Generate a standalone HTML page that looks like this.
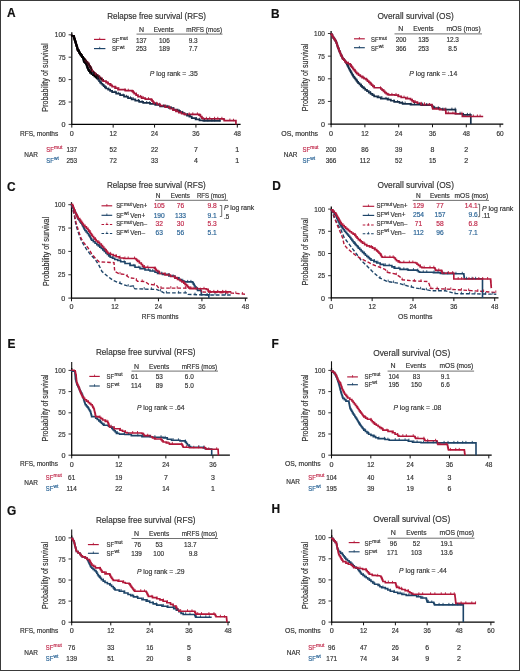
<!DOCTYPE html>
<html><head><meta charset="utf-8"><style>
html,body{margin:0;padding:0;background:#fff;}
body{width:520px;height:671px;overflow:hidden;}
svg{display:block;will-change:transform;}
svg text{font-family:"Liberation Sans",sans-serif;}
</style></head><body>
<svg width="520" height="671" viewBox="0 0 520 671">
<rect x="0" y="0" width="520" height="671" fill="#fff"/>
<g fill="#333333" stroke="#333333" stroke-width="0.18">
<text x="7.00" y="16.90" font-size="11.9" fill="#111" stroke="#111" font-weight="bold">A</text>
<text x="107.20" y="18.70" font-size="8.9" textLength="98.80" lengthAdjust="spacingAndGlyphs">Relapse free survival (RFS)</text>
<line x1="71.80" y1="32.30" x2="71.80" y2="125.00" stroke="#000" stroke-width="1.25"/>
<line x1="71.20" y1="124.40" x2="240.60" y2="124.40" stroke="#000" stroke-width="1.25"/>
<line x1="68.60" y1="124.40" x2="71.80" y2="124.40" stroke="#222" stroke-width="0.9"/>
<text x="65.60" y="127.00" font-size="7.2" text-anchor="end">0</text>
<line x1="68.60" y1="102.00" x2="71.80" y2="102.00" stroke="#222" stroke-width="0.9"/>
<text x="65.60" y="104.60" font-size="7.2" text-anchor="end" textLength="7.21" lengthAdjust="spacingAndGlyphs">25</text>
<line x1="68.60" y1="79.60" x2="71.80" y2="79.60" stroke="#222" stroke-width="0.9"/>
<text x="65.60" y="82.20" font-size="7.2" text-anchor="end" textLength="7.21" lengthAdjust="spacingAndGlyphs">50</text>
<line x1="68.60" y1="57.20" x2="71.80" y2="57.20" stroke="#222" stroke-width="0.9"/>
<text x="65.60" y="59.80" font-size="7.2" text-anchor="end" textLength="7.21" lengthAdjust="spacingAndGlyphs">75</text>
<line x1="68.60" y1="34.80" x2="71.80" y2="34.80" stroke="#222" stroke-width="0.9"/>
<text x="65.60" y="37.40" font-size="7.2" text-anchor="end" textLength="10.81" lengthAdjust="spacingAndGlyphs">100</text>
<line x1="71.80" y1="124.40" x2="71.80" y2="127.60" stroke="#111" stroke-width="1.0"/>
<text x="71.80" y="135.60" font-size="7.2" text-anchor="middle">0</text>
<line x1="113.17" y1="124.40" x2="113.17" y2="127.60" stroke="#111" stroke-width="1.0"/>
<text x="113.17" y="135.60" font-size="7.2" text-anchor="middle" textLength="7.21" lengthAdjust="spacingAndGlyphs">12</text>
<line x1="154.55" y1="124.40" x2="154.55" y2="127.60" stroke="#111" stroke-width="1.0"/>
<text x="154.55" y="135.60" font-size="7.2" text-anchor="middle" textLength="7.21" lengthAdjust="spacingAndGlyphs">24</text>
<line x1="195.93" y1="124.40" x2="195.93" y2="127.60" stroke="#111" stroke-width="1.0"/>
<text x="195.93" y="135.60" font-size="7.2" text-anchor="middle" textLength="7.21" lengthAdjust="spacingAndGlyphs">36</text>
<line x1="237.30" y1="124.40" x2="237.30" y2="127.60" stroke="#111" stroke-width="1.0"/>
<text x="237.30" y="135.60" font-size="7.2" text-anchor="middle" textLength="7.21" lengthAdjust="spacingAndGlyphs">48</text>
<text transform="translate(48.40,77.60) rotate(-90)" font-size="8.2" text-anchor="middle" textLength="68.5" lengthAdjust="spacingAndGlyphs">Probability of survival</text>
<text x="20.00" y="135.50" font-size="7.0" textLength="38.30" lengthAdjust="spacingAndGlyphs">RFS, months</text>
<text x="141.60" y="31.80" font-size="7.0" text-anchor="middle">N</text>
<text x="163.70" y="31.80" font-size="7.0" text-anchor="middle" textLength="20.00" lengthAdjust="spacingAndGlyphs">Events</text>
<text x="204.10" y="31.80" font-size="7.0" text-anchor="middle" textLength="35.80" lengthAdjust="spacingAndGlyphs">mRFS (mos)</text>
<line x1="136.50" y1="34.10" x2="222.50" y2="34.10" stroke="#333" stroke-width="0.7"/>
<line x1="94.00" y1="39.40" x2="105.40" y2="39.40" stroke="#b3183a" stroke-width="1.15"/>
<line x1="99.70" y1="37.60" x2="99.70" y2="39.90" stroke="#b3183a" stroke-width="0.8"/>
<line x1="94.00" y1="48.60" x2="105.40" y2="48.60" stroke="#1d4468" stroke-width="1.15"/>
<line x1="99.70" y1="46.80" x2="99.70" y2="49.10" stroke="#1d4468" stroke-width="0.8"/>
<text x="111.90" y="42.90" font-size="7.0" textLength="7.50" lengthAdjust="spacingAndGlyphs">SF</text>
<text x="119.70" y="40.10" font-size="4.9" textLength="8.17" lengthAdjust="spacingAndGlyphs">mut</text>
<text x="111.90" y="51.30" font-size="7.0" textLength="7.50" lengthAdjust="spacingAndGlyphs">SF</text>
<text x="119.70" y="48.50" font-size="4.9" textLength="4.90" lengthAdjust="spacingAndGlyphs">wt</text>
<text x="141.30" y="42.90" font-size="7.0" text-anchor="middle" textLength="10.74" lengthAdjust="spacingAndGlyphs">137</text>
<text x="164.40" y="42.90" font-size="7.0" text-anchor="middle" textLength="10.74" lengthAdjust="spacingAndGlyphs">106</text>
<text x="193.10" y="42.90" font-size="7.0" text-anchor="middle" textLength="8.95" lengthAdjust="spacingAndGlyphs">9.3</text>
<text x="141.30" y="51.30" font-size="7.0" text-anchor="middle" textLength="10.74" lengthAdjust="spacingAndGlyphs">253</text>
<text x="164.40" y="51.30" font-size="7.0" text-anchor="middle" textLength="10.74" lengthAdjust="spacingAndGlyphs">189</text>
<text x="193.10" y="51.30" font-size="7.0" text-anchor="middle" textLength="8.95" lengthAdjust="spacingAndGlyphs">7.7</text>
<text x="149.7" y="76.2" font-size="7.5" textLength="48" lengthAdjust="spacingAndGlyphs"><tspan font-style="italic">P</tspan> log rank = .35</text>
<polyline points="71.80,34.80 71.80,35.74 73.80,35.74 73.80,36.68 73.80,37.34 74.23,37.34 74.23,38.66 74.66,38.66 74.66,39.99 75.09,39.99 75.09,41.31 75.52,41.31 75.52,41.97 75.52,42.57 75.87,42.57 75.87,43.78 76.22,43.78 76.22,44.99 76.58,44.99 76.58,46.20 76.93,46.20 76.93,47.41 77.28,47.41 77.28,48.62 77.63,48.62 77.63,49.23 77.63,49.89 78.40,49.89 78.40,51.21 79.18,51.21 79.18,52.53 79.95,52.53 79.95,53.85 80.73,53.85 80.73,54.51 80.73,55.30 81.89,55.30 81.89,56.86 83.04,56.86 83.04,57.65 83.04,58.29 83.37,58.29 83.37,59.57 83.71,59.57 83.71,60.86 84.04,60.86 84.04,61.50 84.04,61.99 85.04,61.99 85.04,62.98 86.04,62.98 86.04,63.47 86.04,64.13 86.54,64.13 86.54,65.45 87.04,65.45 87.04,66.78 87.54,66.78 87.54,68.10 88.04,68.10 88.04,68.76 88.04,69.56 89.04,69.56 89.04,71.18 90.04,71.18 90.04,71.98 90.04,72.61 91.54,72.61 91.54,73.87 93.04,73.87 93.04,74.49 93.04,75.10 94.54,75.10 94.54,76.31 96.04,76.31 96.04,76.91 96.04,77.43 97.06,77.43 97.06,78.46 98.07,78.46 98.07,78.97 98.07,79.71 99.07,79.71 99.07,81.19 100.07,81.19 100.07,81.93 100.07,82.53 101.27,82.53 101.27,83.73 102.47,83.73 102.47,84.93 103.67,84.93 103.67,86.13 104.87,86.13 104.87,87.33 106.07,87.33 106.07,87.93 106.07,88.52 108.10,88.52 108.10,89.68 110.12,89.68 110.12,90.84 112.14,90.84 112.14,91.43 112.14,92.19 116.11,92.19 116.11,93.71 120.07,93.71 120.07,94.47 120.07,95.21 124.04,95.21 124.04,96.69 128.00,96.69 128.00,97.43 128.00,98.06 131.62,98.06 131.62,99.31 135.24,99.31 135.24,99.94 135.24,100.57 139.21,100.57 139.21,101.82 143.17,101.82 143.17,102.45 143.17,102.94 150.07,102.94 150.07,103.43 150.07,103.93 155.24,103.93 155.24,104.42 155.24,104.91 160.07,104.91 160.07,105.40 160.07,106.30 168.69,106.30 168.69,107.20 168.69,108.00 173.17,108.00 173.17,109.62 177.65,109.62 177.65,110.42 177.65,110.97 179.95,110.97 179.95,112.08 182.25,112.08 182.25,113.19 184.55,113.19 184.55,113.74 184.55,114.33 186.96,114.33 186.96,115.53 189.37,115.53 189.37,116.72 191.79,116.72 191.79,117.32 191.79,118.06 195.58,118.06 195.58,118.80 195.58,119.33 199.46,119.33 199.46,120.38 203.34,120.38 203.34,120.91 220.75,120.91" fill="none" stroke="#172f4a" stroke-width="1.7" stroke-linejoin="miter"/>
<polyline points="71.80,34.80 71.80,35.74 73.80,35.74 73.80,36.68 73.80,37.34 74.23,37.34 74.23,38.66 74.66,38.66 74.66,39.99 75.09,39.99 75.09,41.31 75.52,41.31 75.52,41.97 75.52,42.57 75.87,42.57 75.87,43.78 76.22,43.78 76.22,44.99 76.58,44.99 76.58,46.20 76.93,46.20 76.93,47.41 77.28,47.41 77.28,48.62 77.63,48.62 77.63,49.23 77.63,49.89 78.40,49.89 78.40,51.21 79.18,51.21 79.18,52.53 79.95,52.53 79.95,53.85 80.73,53.85 80.73,54.51 80.73,55.30 81.89,55.30 81.89,56.86 83.04,56.86 83.04,57.65 83.04,58.23 84.04,58.23 84.04,59.40 85.04,59.40 85.04,59.98 85.04,60.65 86.20,60.65 86.20,61.99 87.36,61.99 87.36,63.34 88.52,63.34 88.52,64.01 88.52,64.59 89.20,64.59 89.20,65.76 89.88,65.76 89.88,66.92 90.56,66.92 90.56,67.50 90.56,68.16 91.22,68.16 91.22,69.48 91.89,69.48 91.89,70.79 92.56,70.79 92.56,71.45 92.56,71.94 93.56,71.94 93.56,72.92 94.56,72.92 94.56,73.42 94.56,74.00 96.05,74.00 96.05,75.16 97.54,75.16 97.54,76.33 99.04,76.33 99.04,76.91 99.04,77.48 100.38,77.48 100.38,78.61 101.73,78.61 101.73,79.75 103.07,79.75 103.07,80.32 103.07,81.12 106.07,81.12 106.07,81.93 106.07,82.60 108.10,82.60 108.10,83.95 110.12,83.95 110.12,85.29 112.14,85.29 112.14,85.96 112.14,86.70 115.07,86.70 115.07,88.18 118.00,88.18 118.00,88.92 118.00,89.68 125.24,89.68 125.24,90.44 125.24,90.71 132.14,90.71 132.14,90.98 132.14,91.47 133.17,91.47 133.17,92.46 134.21,92.46 134.21,92.95 134.21,93.69 136.10,93.69 136.10,95.17 138.00,95.17 138.00,95.91 138.00,96.67 141.62,96.67 141.62,98.19 145.24,98.19 145.24,98.95 145.24,99.18 151.10,99.18 151.10,99.40 151.10,99.98 152.14,99.98 152.14,101.15 153.17,101.15 153.17,102.31 154.21,102.31 154.21,102.90 154.21,103.41 157.14,103.41 157.14,104.44 160.07,104.44 160.07,104.96 160.07,105.70 165.07,105.70 165.07,107.17 170.07,107.17 170.07,107.91 170.07,108.63 173.00,108.63 173.00,110.06 175.93,110.06 175.93,110.78 175.93,111.38 178.80,111.38 178.80,112.57 181.67,112.57 181.67,113.77 184.55,113.77 184.55,114.36 199.03,114.36 199.03,115.10 200.46,115.10 200.46,116.58 201.90,116.58 201.90,118.06 203.34,118.06 203.34,118.80 223.51,118.80 223.51,119.49 224.20,119.49 224.20,120.19 224.20,120.55 235.92,120.55 235.92,120.91 235.92,124.40" fill="none" stroke="#a8173a" stroke-width="1.7" stroke-linejoin="miter"/>
<polyline points="71.80,34.80 71.80,35.74 73.80,35.74 73.80,36.68 73.80,37.34 74.23,37.34 74.23,38.66 74.66,38.66 74.66,39.99 75.09,39.99 75.09,41.31 75.52,41.31 75.52,41.97 75.52,42.57 75.87,42.57 75.87,43.78 76.22,43.78 76.22,44.99 76.58,44.99 76.58,46.20 76.93,46.20 76.93,47.41 77.28,47.41 77.28,48.62 77.63,48.62 77.63,49.23 77.63,49.89 78.40,49.89 78.40,51.21 79.18,51.21 79.18,52.53 79.95,52.53 79.95,53.85 80.73,53.85 80.73,54.51 80.73,55.30 81.89,55.30 81.89,56.86 83.04,56.86 83.04,57.65 83.04,58.29 83.37,58.29 83.37,59.57 83.71,59.57 83.71,60.86 84.04,60.86 84.04,61.50 84.04,61.99 85.04,61.99 85.04,62.98 86.04,62.98 86.04,63.47 86.04,64.13 86.54,64.13 86.54,65.45 87.04,65.45 87.04,66.78 87.54,66.78 87.54,68.10 88.04,68.10 88.04,68.76 88.04,69.56 89.04,69.56 89.04,71.18 90.04,71.18 90.04,71.98 90.04,72.61 91.54,72.61 91.54,73.87 93.04,73.87 93.04,74.49 93.04,75.10 94.54,75.10 94.54,76.31 96.04,76.31 96.04,76.91 96.04,77.43 97.06,77.43 97.06,78.46 98.07,78.46 98.07,78.97" fill="none" stroke="#000" stroke-width="1.7" stroke-linejoin="miter"/>
<polyline points="71.80,34.80 71.80,35.74 73.80,35.74 73.80,36.68 73.80,37.34 74.23,37.34 74.23,38.66 74.66,38.66 74.66,39.99 75.09,39.99 75.09,41.31 75.52,41.31 75.52,41.97 75.52,42.57 75.87,42.57 75.87,43.78 76.22,43.78 76.22,44.99 76.58,44.99 76.58,46.20 76.93,46.20 76.93,47.41 77.28,47.41 77.28,48.62 77.63,48.62 77.63,49.23 77.63,49.89 78.40,49.89 78.40,51.21 79.18,51.21 79.18,52.53 79.95,52.53 79.95,53.85 80.73,53.85 80.73,54.51 80.73,55.30 81.89,55.30 81.89,56.86 83.04,56.86 83.04,57.65 83.04,58.23 84.04,58.23 84.04,59.40 85.04,59.40 85.04,59.98" fill="none" stroke="#000" stroke-width="1.7" stroke-linejoin="miter"/>
<polyline points="85.04,59.98 85.04,60.65 86.20,60.65 86.20,61.99 87.36,61.99 87.36,63.34 88.52,63.34 88.52,64.01 88.52,64.59 89.20,64.59 89.20,65.76 89.88,65.76 89.88,66.92 90.56,66.92 90.56,67.50 90.56,68.16 91.22,68.16 91.22,69.48 91.89,69.48 91.89,70.79 92.56,70.79 92.56,71.45 92.56,71.94 93.56,71.94 93.56,72.92 94.56,72.92 94.56,73.42 94.56,74.00 96.05,74.00 96.05,75.16 97.54,75.16 97.54,76.33 99.04,76.33 99.04,76.91 99.04,77.48 100.38,77.48 100.38,78.61 101.73,78.61 101.73,79.75 103.07,79.75 103.07,80.32" fill="none" stroke="#3a0a16" stroke-width="1.7" stroke-linejoin="miter"/>
<text x="24.30" y="156.80" font-size="7.0" textLength="13.60" lengthAdjust="spacingAndGlyphs">NAR</text>
<text x="46.30" y="151.80" font-size="7.0" textLength="7.50" lengthAdjust="spacingAndGlyphs" fill="#c0284a" stroke="#c0284a">SF</text>
<text x="54.10" y="149.00" font-size="4.9" textLength="8.17" lengthAdjust="spacingAndGlyphs" fill="#c0284a" stroke="#c0284a">mut</text>
<text x="46.30" y="163.00" font-size="7.0" textLength="7.50" lengthAdjust="spacingAndGlyphs" fill="#2a6496" stroke="#2a6496">SF</text>
<text x="54.10" y="160.20" font-size="4.9" textLength="4.90" lengthAdjust="spacingAndGlyphs" fill="#2a6496" stroke="#2a6496">wt</text>
<text x="71.80" y="151.80" font-size="7.0" text-anchor="middle" textLength="10.74" lengthAdjust="spacingAndGlyphs">137</text>
<text x="71.80" y="163.00" font-size="7.0" text-anchor="middle" textLength="10.74" lengthAdjust="spacingAndGlyphs">253</text>
<text x="113.17" y="151.80" font-size="7.0" text-anchor="middle" textLength="7.16" lengthAdjust="spacingAndGlyphs">52</text>
<text x="113.17" y="163.00" font-size="7.0" text-anchor="middle" textLength="7.16" lengthAdjust="spacingAndGlyphs">72</text>
<text x="154.55" y="151.80" font-size="7.0" text-anchor="middle" textLength="7.16" lengthAdjust="spacingAndGlyphs">22</text>
<text x="154.55" y="163.00" font-size="7.0" text-anchor="middle" textLength="7.16" lengthAdjust="spacingAndGlyphs">33</text>
<text x="195.93" y="151.80" font-size="7.0" text-anchor="middle">7</text>
<text x="195.93" y="163.00" font-size="7.0" text-anchor="middle">4</text>
<text x="237.30" y="151.80" font-size="7.0" text-anchor="middle">1</text>
<text x="237.30" y="163.00" font-size="7.0" text-anchor="middle">1</text>
<path d="M92.49,72.03V74.48M97.79,76.68V79.13M101.39,81.25V83.70M105.99,85.85V88.30M108.89,87.55V90.00M114.99,90.52V92.97M118.29,91.79V94.24M123.19,93.64V96.09M126.39,94.83V97.28M130.49,96.29V98.74M133.19,97.23V99.68M138.49,98.97V101.42M142.09,100.10V102.55M146.69,100.95V103.40M149.59,101.36V103.81M155.69,102.51V104.96M158.99,103.18V105.63M163.89,104.20V106.65M167.09,104.86V107.31M171.19,106.10V108.55M173.89,107.07V109.52M179.19,109.16V111.61M182.79,110.89V113.34M187.39,113.14V115.59M190.29,114.58V117.03M196.39,117.02V119.47M199.69,117.91V120.36M204.59,118.91V121.36M207.79,118.91V121.36M211.89,118.91V121.36M214.59,118.91V121.36M219.89,118.91V121.36" stroke="#172f4a" stroke-width="0.9" fill="none"/>
<path d="M92.49,69.31V71.76M95.69,72.30V74.75M99.79,75.54V77.99M102.49,77.82V80.27M107.79,81.07V83.52M111.39,83.46V85.91M115.99,85.90V88.35M118.89,87.10V89.55M124.99,88.39V90.84M128.29,88.68V91.13M133.19,89.98V92.43M136.39,92.65V95.10M140.49,94.95V97.40M143.19,96.09V98.54M148.49,97.20V99.65M152.09,98.51V100.96M156.69,101.77V104.22M159.59,102.79V105.24M165.69,104.62V107.07M168.99,105.59V108.04M173.89,107.78V110.23M177.09,109.26V111.71M181.19,110.97V113.42M183.89,112.09V114.54M189.19,112.36V114.81M192.79,112.36V114.81M197.39,112.36V114.81M200.29,113.66V116.11M206.39,116.80V119.25M209.69,116.80V119.25M214.59,116.80V119.25M217.79,116.80V119.25M221.89,116.80V119.25M224.59,118.21V120.66M229.89,118.54V120.99M233.49,118.76V121.21" stroke="#a8173a" stroke-width="0.9" fill="none"/>
<text x="271.00" y="17.50" font-size="11.9" fill="#111" stroke="#111" font-weight="bold">B</text>
<text x="377.40" y="18.80" font-size="8.9" textLength="76.40" lengthAdjust="spacingAndGlyphs">Overall survival (OS)</text>
<line x1="331.10" y1="31.00" x2="331.10" y2="124.70" stroke="#000" stroke-width="1.25"/>
<line x1="330.50" y1="124.10" x2="503.30" y2="124.10" stroke="#000" stroke-width="1.25"/>
<line x1="327.90" y1="124.10" x2="331.10" y2="124.10" stroke="#222" stroke-width="0.9"/>
<text x="324.90" y="126.70" font-size="7.2" text-anchor="end">0</text>
<line x1="327.90" y1="101.45" x2="331.10" y2="101.45" stroke="#222" stroke-width="0.9"/>
<text x="324.90" y="104.05" font-size="7.2" text-anchor="end" textLength="7.21" lengthAdjust="spacingAndGlyphs">25</text>
<line x1="327.90" y1="78.80" x2="331.10" y2="78.80" stroke="#222" stroke-width="0.9"/>
<text x="324.90" y="81.40" font-size="7.2" text-anchor="end" textLength="7.21" lengthAdjust="spacingAndGlyphs">50</text>
<line x1="327.90" y1="56.15" x2="331.10" y2="56.15" stroke="#222" stroke-width="0.9"/>
<text x="324.90" y="58.75" font-size="7.2" text-anchor="end" textLength="7.21" lengthAdjust="spacingAndGlyphs">75</text>
<line x1="327.90" y1="33.50" x2="331.10" y2="33.50" stroke="#222" stroke-width="0.9"/>
<text x="324.90" y="36.10" font-size="7.2" text-anchor="end" textLength="10.81" lengthAdjust="spacingAndGlyphs">100</text>
<line x1="331.10" y1="124.10" x2="331.10" y2="127.30" stroke="#111" stroke-width="1.0"/>
<text x="331.10" y="135.60" font-size="7.2" text-anchor="middle">0</text>
<line x1="364.90" y1="124.10" x2="364.90" y2="127.30" stroke="#111" stroke-width="1.0"/>
<text x="364.90" y="135.60" font-size="7.2" text-anchor="middle" textLength="7.21" lengthAdjust="spacingAndGlyphs">12</text>
<line x1="398.70" y1="124.10" x2="398.70" y2="127.30" stroke="#111" stroke-width="1.0"/>
<text x="398.70" y="135.60" font-size="7.2" text-anchor="middle" textLength="7.21" lengthAdjust="spacingAndGlyphs">24</text>
<line x1="432.50" y1="124.10" x2="432.50" y2="127.30" stroke="#111" stroke-width="1.0"/>
<text x="432.50" y="135.60" font-size="7.2" text-anchor="middle" textLength="7.21" lengthAdjust="spacingAndGlyphs">36</text>
<line x1="466.30" y1="124.10" x2="466.30" y2="127.30" stroke="#111" stroke-width="1.0"/>
<text x="466.30" y="135.60" font-size="7.2" text-anchor="middle" textLength="7.21" lengthAdjust="spacingAndGlyphs">48</text>
<line x1="500.10" y1="124.10" x2="500.10" y2="127.30" stroke="#111" stroke-width="1.0"/>
<text x="500.10" y="135.60" font-size="7.2" text-anchor="middle" textLength="7.21" lengthAdjust="spacingAndGlyphs">60</text>
<text transform="translate(307.90,77.50) rotate(-90)" font-size="8.2" text-anchor="middle" textLength="67.5" lengthAdjust="spacingAndGlyphs">Probability of survival</text>
<text x="281.30" y="135.50" font-size="7.0" textLength="36.70" lengthAdjust="spacingAndGlyphs">OS, months</text>
<text x="400.80" y="31.30" font-size="7.0" text-anchor="middle">N</text>
<text x="423.50" y="31.30" font-size="7.0" text-anchor="middle" textLength="20.30" lengthAdjust="spacingAndGlyphs">Events</text>
<text x="463.60" y="31.30" font-size="7.0" text-anchor="middle" textLength="34.20" lengthAdjust="spacingAndGlyphs">mOS (mos)</text>
<line x1="394.50" y1="33.90" x2="482.00" y2="33.90" stroke="#333" stroke-width="0.7"/>
<line x1="354.00" y1="38.80" x2="364.80" y2="38.80" stroke="#b3183a" stroke-width="1.15"/>
<line x1="359.40" y1="37.00" x2="359.40" y2="39.30" stroke="#b3183a" stroke-width="0.8"/>
<line x1="354.00" y1="47.70" x2="364.80" y2="47.70" stroke="#1d4468" stroke-width="1.15"/>
<line x1="359.40" y1="45.90" x2="359.40" y2="48.20" stroke="#1d4468" stroke-width="0.8"/>
<text x="371.00" y="42.30" font-size="7.0" textLength="7.50" lengthAdjust="spacingAndGlyphs">SF</text>
<text x="378.80" y="39.50" font-size="4.9" textLength="8.17" lengthAdjust="spacingAndGlyphs">mut</text>
<text x="371.00" y="51.00" font-size="7.0" textLength="7.50" lengthAdjust="spacingAndGlyphs">SF</text>
<text x="378.80" y="48.20" font-size="4.9" textLength="4.90" lengthAdjust="spacingAndGlyphs">wt</text>
<text x="401.00" y="42.30" font-size="7.0" text-anchor="middle" textLength="10.74" lengthAdjust="spacingAndGlyphs">200</text>
<text x="423.60" y="42.30" font-size="7.0" text-anchor="middle" textLength="10.74" lengthAdjust="spacingAndGlyphs">135</text>
<text x="452.70" y="42.30" font-size="7.0" text-anchor="middle" textLength="12.53" lengthAdjust="spacingAndGlyphs">12.3</text>
<text x="401.00" y="51.00" font-size="7.0" text-anchor="middle" textLength="10.74" lengthAdjust="spacingAndGlyphs">366</text>
<text x="423.60" y="51.00" font-size="7.0" text-anchor="middle" textLength="10.74" lengthAdjust="spacingAndGlyphs">253</text>
<text x="452.70" y="51.00" font-size="7.0" text-anchor="middle" textLength="8.95" lengthAdjust="spacingAndGlyphs">8.5</text>
<text x="409.2" y="75.8" font-size="7.5" textLength="48" lengthAdjust="spacingAndGlyphs"><tspan font-style="italic">P</tspan> log rank = .14</text>
<polyline points="331.10,33.50 331.10,34.15 331.86,34.15 331.86,35.45 332.62,35.45 332.62,36.75 333.38,36.75 333.38,37.40 333.38,38.06 334.25,38.06 334.25,39.39 335.11,39.39 335.11,40.72 335.97,40.72 335.97,41.38 335.97,41.99 336.39,41.99 336.39,43.20 336.81,43.20 336.81,44.42 337.22,44.42 337.22,45.63 337.64,45.63 337.64,46.85 338.06,46.85 338.06,47.45 338.06,48.12 338.59,48.12 338.59,49.46 339.13,49.46 339.13,50.80 339.66,50.80 339.66,52.15 340.20,52.15 340.20,53.49 340.73,53.49 340.73,54.16 340.73,54.84 341.40,54.84 341.40,56.20 342.07,56.20 342.07,57.55 342.73,57.55 342.73,58.23 342.73,58.91 343.86,58.91 343.86,60.27 344.99,60.27 344.99,61.63 346.11,61.63 346.11,62.31 346.11,62.97 346.76,62.97 346.76,64.28 347.41,64.28 347.41,64.94 347.41,65.62 348.08,65.62 348.08,66.98 348.75,66.98 348.75,68.34 349.42,68.34 349.42,69.69 350.08,69.69 350.08,70.37 350.08,70.97 350.76,70.97 350.76,72.17 351.44,72.17 351.44,73.36 352.11,73.36 352.11,74.56 352.79,74.56 352.79,75.76 353.46,75.76 353.46,76.35 353.46,76.96 354.40,76.96 354.40,78.17 355.33,78.17 355.33,79.39 356.27,79.39 356.27,80.60 357.20,80.60 357.20,81.82 358.14,81.82 358.14,82.42 358.14,83.10 359.46,83.10 359.46,84.46 360.77,84.46 360.77,85.82 362.09,85.82 362.09,87.18 363.41,87.18 363.41,87.86 363.41,88.52 365.20,88.52 365.20,89.85 366.99,89.85 366.99,91.18 368.79,91.18 368.79,91.85 368.79,92.53 370.57,92.53 370.57,93.88 372.35,93.88 372.35,95.24 374.14,95.24 374.14,95.92 374.14,96.42 377.48,96.42 377.48,97.42 380.81,97.42 380.81,97.92 380.81,98.55 387.57,98.55 387.57,99.19 387.57,99.71 390.88,99.71 390.88,100.75 394.19,100.75 394.19,101.27 394.19,101.95 399.55,101.95 399.55,102.63 399.55,102.85 402.64,102.85 402.64,103.08 402.64,103.85 410.53,103.85 410.53,104.62 421.23,104.62 421.23,105.03 431.94,105.03 431.94,105.44 431.94,106.00 432.78,106.00 432.78,107.14 433.63,107.14 433.63,107.70 433.63,108.11 439.54,108.11 439.54,108.52 439.54,109.06 442.64,109.06 442.64,109.60 455.60,109.60 455.60,113.77 462.92,113.77 462.92,114.86 470.81,114.86 470.81,124.10" fill="none" stroke="#172f4a" stroke-width="1.7" stroke-linejoin="miter"/>
<polyline points="331.10,33.50 331.10,34.15 331.86,34.15 331.86,35.45 332.62,35.45 332.62,36.75 333.38,36.75 333.38,37.40 333.38,38.06 334.25,38.06 334.25,39.39 335.11,39.39 335.11,40.72 335.97,40.72 335.97,41.38 335.97,41.99 336.39,41.99 336.39,43.20 336.81,43.20 336.81,44.42 337.22,44.42 337.22,45.63 337.64,45.63 337.64,46.85 338.06,46.85 338.06,47.45 338.06,48.12 338.59,48.12 338.59,49.46 339.13,49.46 339.13,50.80 339.66,50.80 339.66,52.15 340.20,52.15 340.20,53.49 340.73,53.49 340.73,54.16 340.73,54.84 341.40,54.84 341.40,56.20 342.07,56.20 342.07,57.55 342.73,57.55 342.73,58.23 342.73,58.91 343.86,58.91 343.86,60.27 344.99,60.27 344.99,61.63 346.11,61.63 346.11,62.31 346.11,62.81 348.10,62.81 348.10,63.81 350.08,63.81 350.08,64.30 350.08,64.88 350.93,64.88 350.93,66.04 351.77,66.04 351.77,67.19 352.62,67.19 352.62,68.35 353.46,68.35 353.46,68.92 353.46,69.62 354.55,69.62 354.55,71.01 355.64,71.01 355.64,72.40 356.73,72.40 356.73,73.09 356.73,73.76 358.52,73.76 358.52,75.09 360.30,75.09 360.30,76.41 362.08,76.41 362.08,77.08 362.08,77.58 364.06,77.58 364.06,78.57 366.03,78.57 366.03,79.07 366.03,79.75 367.44,79.75 367.44,81.11 368.84,81.11 368.84,82.47 370.25,82.47 370.25,83.15 370.25,83.81 371.57,83.81 371.57,85.14 372.88,85.14 372.88,86.47 374.20,86.47 374.20,87.14 374.20,87.77 380.81,87.77 380.81,88.40 380.81,89.00 382.15,89.00 382.15,90.20 383.49,90.20 383.49,91.40 384.83,91.40 384.83,92.61 386.17,92.61 386.17,93.21 386.17,93.70 387.50,93.70 387.50,94.70 388.84,94.70 388.84,95.20 388.84,94.88 395.04,94.88 395.04,94.56 395.04,95.15 398.14,95.15 398.14,96.33 401.24,96.33 401.24,96.92 401.24,97.49 405.88,97.49 405.88,98.62 410.53,98.62 410.53,99.19 410.53,99.77 412.08,99.77 412.08,100.95 413.63,100.95 413.63,101.54 413.63,102.11 417.43,102.11 417.43,103.24 421.23,103.24 421.23,103.81 421.23,104.62 431.94,104.62 431.94,105.44 431.94,106.21 432.36,106.21 432.36,107.75 432.78,107.75 432.78,108.52 432.78,108.88 439.54,108.88 439.54,109.24 439.54,109.60 445.74,109.60 445.74,109.97 445.74,110.76 445.81,110.76 445.81,112.34 445.88,112.34 445.88,113.14 445.88,113.45 455.03,113.45 455.03,113.77 462.36,113.77 462.36,116.49 483.20,116.49" fill="none" stroke="#a8173a" stroke-width="1.7" stroke-linejoin="miter"/>
<text x="283.80" y="156.80" font-size="7.0" textLength="13.60" lengthAdjust="spacingAndGlyphs">NAR</text>
<text x="302.50" y="151.80" font-size="7.0" textLength="7.50" lengthAdjust="spacingAndGlyphs" fill="#c0284a" stroke="#c0284a">SF</text>
<text x="310.30" y="149.00" font-size="4.9" textLength="8.17" lengthAdjust="spacingAndGlyphs" fill="#c0284a" stroke="#c0284a">mut</text>
<text x="302.50" y="163.00" font-size="7.0" textLength="7.50" lengthAdjust="spacingAndGlyphs" fill="#2a6496" stroke="#2a6496">SF</text>
<text x="310.30" y="160.20" font-size="4.9" textLength="4.90" lengthAdjust="spacingAndGlyphs" fill="#2a6496" stroke="#2a6496">wt</text>
<text x="331.10" y="151.80" font-size="7.0" text-anchor="middle" textLength="10.74" lengthAdjust="spacingAndGlyphs">200</text>
<text x="331.10" y="163.00" font-size="7.0" text-anchor="middle" textLength="10.74" lengthAdjust="spacingAndGlyphs">366</text>
<text x="364.90" y="151.80" font-size="7.0" text-anchor="middle" textLength="7.16" lengthAdjust="spacingAndGlyphs">86</text>
<text x="364.90" y="163.00" font-size="7.0" text-anchor="middle" textLength="10.27" lengthAdjust="spacingAndGlyphs">112</text>
<text x="398.70" y="151.80" font-size="7.0" text-anchor="middle" textLength="7.16" lengthAdjust="spacingAndGlyphs">39</text>
<text x="398.70" y="163.00" font-size="7.0" text-anchor="middle" textLength="7.16" lengthAdjust="spacingAndGlyphs">52</text>
<text x="432.50" y="151.80" font-size="7.0" text-anchor="middle">8</text>
<text x="432.50" y="163.00" font-size="7.0" text-anchor="middle" textLength="7.16" lengthAdjust="spacingAndGlyphs">15</text>
<text x="466.30" y="151.80" font-size="7.0" text-anchor="middle">2</text>
<text x="466.30" y="163.00" font-size="7.0" text-anchor="middle">2</text>
<path d="M348.00,64.14V66.59M353.30,74.06V76.51M356.90,78.81V81.26M361.50,83.89V86.34M364.40,86.60V89.05M370.50,91.15V93.60M373.80,93.67V96.12M378.70,95.29V97.74M381.90,96.12V98.57M386.00,96.89V99.34M388.70,97.54V99.99M394.00,99.21V101.66M397.60,100.13V102.58M402.20,101.02V103.47M405.10,101.56V104.01M411.20,102.62V105.07M414.50,102.62V105.07M419.40,102.62V105.07M422.60,102.73V105.18M426.70,103.04V105.49M429.40,103.24V105.69M434.70,105.85V108.30M438.30,106.35V108.80M442.90,107.60V110.05M445.80,107.60V110.05M451.90,107.60V110.05M455.20,107.60V110.05M460.10,111.77V114.22M463.30,112.86V115.31M467.40,112.86V115.31M470.10,112.86V115.31" stroke="#172f4a" stroke-width="0.9" fill="none"/>
<path d="M348.00,61.26V63.71M351.20,63.83V66.28M355.30,69.27V71.72M358.00,72.04V74.49M363.30,75.69V78.14M366.90,77.91V80.36M371.50,82.41V84.86M374.40,85.17V87.62M380.50,86.34V88.79M383.80,89.08V91.53M388.70,93.09V95.54M391.90,92.89V95.34M396.00,92.93V95.38M398.70,93.96V96.41M404.00,95.59V98.04M407.60,96.47V98.92M412.20,98.45V100.90M415.10,99.98V102.43M421.20,101.80V104.25M424.50,102.30V104.75M429.40,103.05V105.50M432.60,105.85V108.30M436.70,106.94V109.39M439.40,107.23V109.68M444.70,107.84V110.29M448.30,111.31V113.76M452.90,111.62V114.07M455.80,111.77V114.22M461.90,111.77V114.22M465.20,114.49V116.94M470.10,114.49V116.94M473.30,114.49V116.94M477.40,114.49V116.94M480.10,114.49V116.94" stroke="#a8173a" stroke-width="0.9" fill="none"/>
<text x="7.00" y="190.80" font-size="11.9" fill="#111" stroke="#111" font-weight="bold">C</text>
<text x="107.00" y="187.70" font-size="8.9" textLength="98.80" lengthAdjust="spacingAndGlyphs">Relapse free survival (RFS)</text>
<line x1="71.50" y1="202.20" x2="71.50" y2="298.70" stroke="#000" stroke-width="1.25"/>
<line x1="70.90" y1="298.10" x2="247.50" y2="298.10" stroke="#000" stroke-width="1.25"/>
<line x1="68.30" y1="298.10" x2="71.50" y2="298.10" stroke="#222" stroke-width="0.9"/>
<text x="65.30" y="300.70" font-size="7.2" text-anchor="end">0</text>
<line x1="68.30" y1="274.75" x2="71.50" y2="274.75" stroke="#222" stroke-width="0.9"/>
<text x="65.30" y="277.35" font-size="7.2" text-anchor="end" textLength="7.21" lengthAdjust="spacingAndGlyphs">25</text>
<line x1="68.30" y1="251.40" x2="71.50" y2="251.40" stroke="#222" stroke-width="0.9"/>
<text x="65.30" y="254.00" font-size="7.2" text-anchor="end" textLength="7.21" lengthAdjust="spacingAndGlyphs">50</text>
<line x1="68.30" y1="228.05" x2="71.50" y2="228.05" stroke="#222" stroke-width="0.9"/>
<text x="65.30" y="230.65" font-size="7.2" text-anchor="end" textLength="7.21" lengthAdjust="spacingAndGlyphs">75</text>
<line x1="68.30" y1="204.70" x2="71.50" y2="204.70" stroke="#222" stroke-width="0.9"/>
<text x="65.30" y="207.30" font-size="7.2" text-anchor="end" textLength="10.81" lengthAdjust="spacingAndGlyphs">100</text>
<line x1="71.50" y1="298.10" x2="71.50" y2="301.30" stroke="#111" stroke-width="1.0"/>
<text x="71.50" y="309.30" font-size="7.2" text-anchor="middle">0</text>
<line x1="114.97" y1="298.10" x2="114.97" y2="301.30" stroke="#111" stroke-width="1.0"/>
<text x="114.97" y="309.30" font-size="7.2" text-anchor="middle" textLength="7.21" lengthAdjust="spacingAndGlyphs">12</text>
<line x1="158.45" y1="298.10" x2="158.45" y2="301.30" stroke="#111" stroke-width="1.0"/>
<text x="158.45" y="309.30" font-size="7.2" text-anchor="middle" textLength="7.21" lengthAdjust="spacingAndGlyphs">24</text>
<line x1="201.93" y1="298.10" x2="201.93" y2="301.30" stroke="#111" stroke-width="1.0"/>
<text x="201.93" y="309.30" font-size="7.2" text-anchor="middle" textLength="7.21" lengthAdjust="spacingAndGlyphs">36</text>
<line x1="245.40" y1="298.10" x2="245.40" y2="301.30" stroke="#111" stroke-width="1.0"/>
<text x="245.40" y="309.30" font-size="7.2" text-anchor="middle" textLength="7.21" lengthAdjust="spacingAndGlyphs">48</text>
<text transform="translate(48.60,251.50) rotate(-90)" font-size="8.2" text-anchor="middle" textLength="69" lengthAdjust="spacingAndGlyphs">Probability of survival</text>
<text x="141.80" y="318.60" font-size="7.5" textLength="36.90" lengthAdjust="spacingAndGlyphs">RFS months</text>
<text x="158.00" y="197.60" font-size="6.5" text-anchor="middle">N</text>
<text x="180.30" y="197.60" font-size="6.5" text-anchor="middle" textLength="19.20" lengthAdjust="spacingAndGlyphs">Events</text>
<text x="211.60" y="197.60" font-size="6.5" text-anchor="middle" textLength="29.20" lengthAdjust="spacingAndGlyphs">RFS (mos)</text>
<line x1="155.00" y1="200.30" x2="228.00" y2="200.30" stroke="#333" stroke-width="0.7"/>
<line x1="101.50" y1="205.80" x2="112.20" y2="205.80" stroke="#b3183a" stroke-width="1.15"/>
<line x1="106.85" y1="204.00" x2="106.85" y2="206.30" stroke="#b3183a" stroke-width="0.8"/>
<text x="116.20" y="208.40" font-size="7.0" textLength="7.50" lengthAdjust="spacingAndGlyphs">SF</text>
<text x="124.00" y="205.90" font-size="4.7" textLength="7.83" lengthAdjust="spacingAndGlyphs">mut</text>
<text x="132.40" y="208.40" font-size="7.0" textLength="14.86" lengthAdjust="spacingAndGlyphs">Ven+</text>
<text x="159.20" y="208.40" font-size="7.0" text-anchor="middle" textLength="11.10" lengthAdjust="spacingAndGlyphs" fill="#c0284a" stroke="#c0284a">105</text>
<text x="180.50" y="208.40" font-size="7.0" text-anchor="middle" textLength="7.40" lengthAdjust="spacingAndGlyphs" fill="#c0284a" stroke="#c0284a">76</text>
<text x="212.10" y="208.40" font-size="7.0" text-anchor="middle" textLength="9.24" lengthAdjust="spacingAndGlyphs" fill="#c0284a" stroke="#c0284a">9.8</text>
<line x1="101.50" y1="215.30" x2="112.20" y2="215.30" stroke="#1d4468" stroke-width="1.15"/>
<line x1="106.85" y1="213.50" x2="106.85" y2="215.80" stroke="#1d4468" stroke-width="0.8"/>
<text x="116.20" y="217.60" font-size="7.0" textLength="7.50" lengthAdjust="spacingAndGlyphs">SF</text>
<text x="124.00" y="215.10" font-size="4.7" textLength="4.70" lengthAdjust="spacingAndGlyphs">wt</text>
<text x="130.30" y="217.60" font-size="7.0" textLength="14.86" lengthAdjust="spacingAndGlyphs">Ven+</text>
<text x="159.20" y="217.60" font-size="7.0" text-anchor="middle" textLength="11.10" lengthAdjust="spacingAndGlyphs" fill="#2a6496" stroke="#2a6496">190</text>
<text x="180.50" y="217.60" font-size="7.0" text-anchor="middle" textLength="11.10" lengthAdjust="spacingAndGlyphs" fill="#2a6496" stroke="#2a6496">133</text>
<text x="212.10" y="217.60" font-size="7.0" text-anchor="middle" textLength="9.24" lengthAdjust="spacingAndGlyphs" fill="#2a6496" stroke="#2a6496">9.1</text>
<line x1="101.50" y1="224.50" x2="112.20" y2="224.50" stroke="#b3183a" stroke-width="1.15" stroke-dasharray="2.6 1.6"/>
<line x1="106.85" y1="222.70" x2="106.85" y2="225.00" stroke="#b3183a" stroke-width="0.8"/>
<text x="116.20" y="226.20" font-size="7.0" textLength="7.50" lengthAdjust="spacingAndGlyphs">SF</text>
<text x="124.00" y="223.70" font-size="4.7" textLength="7.83" lengthAdjust="spacingAndGlyphs">mut</text>
<text x="132.40" y="226.20" font-size="7.0" textLength="14.69" lengthAdjust="spacingAndGlyphs">Ven–</text>
<text x="159.20" y="226.20" font-size="7.0" text-anchor="middle" textLength="7.40" lengthAdjust="spacingAndGlyphs" fill="#c0284a" stroke="#c0284a">32</text>
<text x="180.50" y="226.20" font-size="7.0" text-anchor="middle" textLength="7.40" lengthAdjust="spacingAndGlyphs" fill="#c0284a" stroke="#c0284a">30</text>
<text x="212.10" y="226.20" font-size="7.0" text-anchor="middle" textLength="9.24" lengthAdjust="spacingAndGlyphs" fill="#c0284a" stroke="#c0284a">5.3</text>
<line x1="101.50" y1="233.50" x2="112.20" y2="233.50" stroke="#1d4468" stroke-width="1.15" stroke-dasharray="2.6 1.6"/>
<line x1="106.85" y1="231.70" x2="106.85" y2="234.00" stroke="#1d4468" stroke-width="0.8"/>
<text x="116.20" y="235.00" font-size="7.0" textLength="7.50" lengthAdjust="spacingAndGlyphs">SF</text>
<text x="124.00" y="232.50" font-size="4.7" textLength="4.70" lengthAdjust="spacingAndGlyphs">wt</text>
<text x="130.30" y="235.00" font-size="7.0" textLength="14.69" lengthAdjust="spacingAndGlyphs">Ven–</text>
<text x="159.20" y="235.00" font-size="7.0" text-anchor="middle" textLength="7.40" lengthAdjust="spacingAndGlyphs" fill="#2a6496" stroke="#2a6496">63</text>
<text x="180.50" y="235.00" font-size="7.0" text-anchor="middle" textLength="7.40" lengthAdjust="spacingAndGlyphs" fill="#2a6496" stroke="#2a6496">56</text>
<text x="212.10" y="235.00" font-size="7.0" text-anchor="middle" textLength="9.24" lengthAdjust="spacingAndGlyphs" fill="#2a6496" stroke="#2a6496">5.1</text>
<line x1="221.70" y1="205.50" x2="221.70" y2="216.50" stroke="#333" stroke-width="0.7"/>
<line x1="219.80" y1="205.50" x2="221.70" y2="205.50" stroke="#333" stroke-width="0.7"/>
<line x1="219.80" y1="216.50" x2="221.70" y2="216.50" stroke="#333" stroke-width="0.7"/>
<text x="223.9" y="210.1" font-size="6.8" textLength="30.3" lengthAdjust="spacingAndGlyphs"><tspan font-style="italic">P</tspan> log rank</text>
<text x="223.90" y="218.70" font-size="6.8" textLength="5.22" lengthAdjust="spacingAndGlyphs">.5</text>
<polyline points="71.60,204.70 74.50,216.40 76.00,225.30 78.90,234.30 81.90,241.70 86.40,249.20 90.90,255.10 95.30,259.60 99.10,265.60 102.00,271.50 107.30,276.00 113.20,280.50 120.70,283.50 126.60,285.70 129.60,286.40 132.50,285.90 135.00,288.80 156.30,289.40 161.30,291.30 163.80,292.90 187.50,292.90 188.10,294.40 207.50,295.00 232.50,295.00" fill="none" stroke="#1d4468" stroke-width="1.4" stroke-linejoin="miter" stroke-dasharray="3.6 2.0"/>
<polyline points="71.60,204.70 74.50,214.90 76.00,222.40 78.20,229.80 81.20,238.70 84.20,243.20 87.90,247.70 91.60,253.70 95.30,258.10 99.10,261.80 114.00,262.60 114.70,271.50 119.20,273.80 125.00,274.40 129.40,277.80 135.00,278.50 137.50,281.30 145.00,281.50 148.80,284.40 156.30,285.00 158.80,288.10 200.00,288.10 201.00,291.90 232.50,293.10 245.00,294.20" fill="none" stroke="#b3183a" stroke-width="1.4" stroke-linejoin="miter" stroke-dasharray="3.6 2.0"/>
<polyline points="71.60,204.70 71.60,205.30 72.20,205.30 72.20,206.50 72.80,206.50 72.80,207.70 73.40,207.70 73.40,208.90 74.00,208.90 74.00,210.10 74.60,210.10 74.60,211.30 75.20,211.30 75.20,211.90 75.20,212.57 75.80,212.57 75.80,213.91 76.40,213.91 76.40,215.25 77.00,215.25 77.00,216.59 77.60,216.59 77.60,217.93 78.20,217.93 78.20,218.60 78.20,219.25 79.12,219.25 79.12,220.55 80.05,220.55 80.05,221.85 80.98,221.85 80.98,223.15 81.90,223.15 81.90,223.80 81.90,224.40 82.50,224.40 82.50,225.60 83.10,225.60 83.10,226.80 83.70,226.80 83.70,228.00 84.30,228.00 84.30,229.20 84.90,229.20 84.90,229.80 84.90,230.55 86.13,230.55 86.13,232.05 87.37,232.05 87.37,233.55 88.60,233.55 88.60,234.30 88.60,234.95 89.35,234.95 89.35,236.25 90.10,236.25 90.10,237.55 90.85,237.55 90.85,238.85 91.60,238.85 91.60,239.50 91.60,240.25 93.33,240.25 93.33,241.75 95.07,241.75 95.07,243.25 96.80,243.25 96.80,244.00 96.80,244.62 98.30,244.62 98.30,245.85 99.80,245.85 99.80,247.08 101.30,247.08 101.30,247.70 101.30,248.45 102.80,248.45 102.80,249.95 104.30,249.95 104.30,251.45 105.80,251.45 105.80,252.20 105.80,252.93 107.27,252.93 107.27,254.40 108.73,254.40 108.73,255.87 110.20,255.87 110.20,256.60 110.20,257.18 112.45,257.18 112.45,258.32 114.70,258.32 114.70,258.90 114.70,259.45 117.70,259.45 117.70,260.55 120.70,260.55 120.70,261.10 120.70,261.80 125.00,261.80 125.00,262.50 125.00,263.45 130.00,263.45 130.00,264.40 130.00,265.35 135.00,265.35 135.00,266.30 135.00,267.20 140.00,267.20 140.00,268.10 140.00,268.75 145.00,268.75 145.00,269.40 145.00,270.00 150.00,270.00 150.00,270.60 150.00,270.95 155.00,270.95 155.00,271.30 155.00,272.20 157.50,272.20 157.50,273.10 157.50,273.45 162.50,273.45 162.50,273.80 162.50,274.40 168.80,274.40 168.80,275.00 168.80,275.95 175.00,275.95 175.00,276.90 175.00,277.85 178.80,277.85 178.80,278.80 178.80,279.43 181.30,279.43 181.30,280.68 183.80,280.68 183.80,281.30 183.80,281.60 185.00,281.60 185.00,281.90 192.50,281.90 192.50,282.63 193.33,282.63 193.33,284.10 194.17,284.10 194.17,285.57 195.00,285.57 195.00,286.30 195.00,287.07 196.25,287.07 196.25,288.62 197.50,288.62 197.50,289.40 197.50,290.35 201.30,290.35 201.30,291.30 201.30,294.40 201.30,294.70 208.80,294.70 208.80,295.00 208.80,298.00" fill="none" stroke="#1d4468" stroke-width="1.6" stroke-linejoin="miter"/>
<polyline points="71.60,204.70 71.60,204.30 72.20,204.30 72.20,203.90 72.20,204.57 72.70,204.57 72.70,205.90 73.20,205.90 73.20,207.23 73.70,207.23 73.70,208.57 74.20,208.57 74.20,209.90 74.70,209.90 74.70,211.23 75.20,211.23 75.20,211.90 75.20,212.50 75.80,212.50 75.80,213.70 76.40,213.70 76.40,214.90 77.00,214.90 77.00,216.10 77.60,216.10 77.60,217.30 78.20,217.30 78.20,217.90 78.20,218.65 79.70,218.65 79.70,219.40 79.70,220.05 80.62,220.05 80.62,221.35 81.55,221.35 81.55,222.65 82.48,222.65 82.48,223.95 83.40,223.95 83.40,224.60 83.40,225.35 84.90,225.35 84.90,226.85 86.40,226.85 86.40,228.35 87.90,228.35 87.90,229.10 87.90,229.77 88.80,229.77 88.80,231.11 89.70,231.11 89.70,232.45 90.60,232.45 90.60,233.79 91.50,233.79 91.50,235.13 92.40,235.13 92.40,235.80 92.40,236.53 93.63,236.53 93.63,238.00 94.87,238.00 94.87,239.47 96.10,239.47 96.10,240.20 96.10,240.95 97.83,240.95 97.83,242.45 99.57,242.45 99.57,243.95 101.30,243.95 101.30,244.70 101.30,245.45 102.53,245.45 102.53,246.95 103.77,246.95 103.77,248.45 105.00,248.45 105.00,249.20 105.00,249.82 106.00,249.82 106.00,251.05 107.00,251.05 107.00,252.28 108.00,252.28 108.00,252.90 108.00,253.45 110.60,253.45 110.60,254.55 113.20,254.55 113.20,255.10 113.20,255.67 116.20,255.67 116.20,256.82 119.20,256.82 119.20,257.40 119.20,257.95 123.70,257.95 123.70,258.50 135.60,258.50 135.60,259.02 136.55,259.02 136.55,260.08 137.50,260.08 137.50,260.60 137.50,261.40 139.40,261.40 139.40,263.00 141.30,263.00 141.30,263.80 141.30,264.57 142.55,264.57 142.55,266.12 143.80,266.12 143.80,266.90 143.80,267.20 146.90,267.20 146.90,267.50 154.40,267.50 154.40,268.12 155.35,268.12 155.35,269.38 156.30,269.38 156.30,270.00 156.30,270.62 157.85,270.62 157.85,271.88 159.40,271.88 159.40,272.50 159.40,273.45 165.00,273.45 165.00,274.40 165.00,275.00 170.60,275.00 170.60,275.60 170.60,276.55 175.00,276.55 175.00,277.50 175.00,278.12 177.50,278.12 177.50,279.38 180.00,279.38 180.00,280.00 180.00,280.62 181.90,280.62 181.90,281.88 183.80,281.88 183.80,282.50 183.80,283.13 185.03,283.13 185.03,284.40 186.27,284.40 186.27,285.67 187.50,285.67 187.50,286.30 187.50,286.85 188.75,286.85 188.75,287.95 190.00,287.95 190.00,288.50 190.00,288.65 197.50,288.65 197.50,288.80 206.30,288.80 206.30,289.57 208.15,289.57 208.15,291.12 210.00,291.12 210.00,291.90 231.30,291.90" fill="none" stroke="#b3183a" stroke-width="1.6" stroke-linejoin="miter"/>
<path d="M90.00,234.73V237.18M93.24,238.92V241.37M99.60,244.30V246.75M103.92,248.32V250.77M109.44,253.84V256.29M112.92,255.99V258.44M120.24,258.93V261.38M124.20,260.24V262.69M130.08,262.43V264.88M133.92,263.89V266.34M138.84,265.68V268.13M142.08,266.64V269.09M148.44,268.23V270.68M152.76,268.99V271.44M158.28,271.21V273.66M161.76,271.70V274.15M169.08,273.09V275.54M173.04,274.30V276.75M178.92,276.86V279.31M182.76,278.78V281.23M187.68,279.90V282.35M190.92,279.90V282.35M197.28,287.13V289.58M201.60,292.42V294.87M207.12,292.87V295.32" stroke="#1d4468" stroke-width="0.9" fill="none"/>
<path d="M90.00,230.23V232.68M95.52,237.51V239.96M99.00,240.71V243.16M106.32,248.83V251.28M110.28,251.86V254.31M116.16,254.23V256.68M120.00,255.60V258.05M124.92,256.50V258.95M128.16,256.50V258.95M134.52,256.50V258.95M138.84,259.73V262.18M144.36,265.01V267.46M147.84,265.50V267.95M155.16,266.50V268.95M159.12,270.27V272.72M165.00,272.40V274.85M168.84,273.22V275.67M173.76,274.96V277.41M177.00,276.50V278.95M183.36,280.21V282.66M187.68,284.46V286.91M193.20,286.63V289.08M196.68,286.77V289.22M204.00,286.80V289.25M207.96,288.19V290.64M213.84,289.90V292.35M217.68,289.90V292.35M222.60,289.90V292.35M225.84,289.90V292.35" stroke="#b3183a" stroke-width="0.9" fill="none"/>
<path d="M120.00,281.22V283.67M128.20,284.07V286.52M133.60,285.18V287.63M144.20,287.06V289.51M151.40,287.26V289.71M160.60,289.03V291.48M166.40,290.90V293.35M178.60,290.90V293.35M185.20,290.90V293.35M195.00,292.61V295.06M201.40,292.81V295.26M209.60,293.00V295.45M215.00,293.00V295.45M225.60,293.00V295.45" stroke="#1d4468" stroke-width="0.9" fill="none"/>
<path d="M120.00,271.88V274.33M127.20,274.10V276.55M136.40,278.07V280.52M142.20,279.43V281.88M154.40,282.85V285.30M161.00,286.10V288.55M170.80,286.10V288.55M177.20,286.10V288.55M185.40,286.10V288.55M190.80,286.10V288.55M201.40,289.92V292.37M208.60,290.19V292.64M217.80,290.54V292.99M223.60,290.76V293.21M235.80,291.39V293.84M242.40,291.97V294.42" stroke="#b3183a" stroke-width="0.9" fill="none"/>
<text x="272.30" y="190.00" font-size="11.9" fill="#111" stroke="#111" font-weight="bold">D</text>
<text x="377.50" y="187.90" font-size="8.9" textLength="76.40" lengthAdjust="spacingAndGlyphs">Overall survival (OS)</text>
<line x1="331.30" y1="206.60" x2="331.30" y2="298.50" stroke="#000" stroke-width="1.25"/>
<line x1="330.70" y1="297.90" x2="498.50" y2="297.90" stroke="#000" stroke-width="1.25"/>
<line x1="328.10" y1="297.90" x2="331.30" y2="297.90" stroke="#222" stroke-width="0.9"/>
<text x="325.10" y="300.50" font-size="7.2" text-anchor="end">0</text>
<line x1="328.10" y1="275.70" x2="331.30" y2="275.70" stroke="#222" stroke-width="0.9"/>
<text x="325.10" y="278.30" font-size="7.2" text-anchor="end" textLength="7.21" lengthAdjust="spacingAndGlyphs">25</text>
<line x1="328.10" y1="253.50" x2="331.30" y2="253.50" stroke="#222" stroke-width="0.9"/>
<text x="325.10" y="256.10" font-size="7.2" text-anchor="end" textLength="7.21" lengthAdjust="spacingAndGlyphs">50</text>
<line x1="328.10" y1="231.30" x2="331.30" y2="231.30" stroke="#222" stroke-width="0.9"/>
<text x="325.10" y="233.90" font-size="7.2" text-anchor="end" textLength="7.21" lengthAdjust="spacingAndGlyphs">75</text>
<line x1="328.10" y1="209.10" x2="331.30" y2="209.10" stroke="#222" stroke-width="0.9"/>
<text x="325.10" y="211.70" font-size="7.2" text-anchor="end" textLength="10.81" lengthAdjust="spacingAndGlyphs">100</text>
<line x1="331.30" y1="297.90" x2="331.30" y2="301.10" stroke="#111" stroke-width="1.0"/>
<text x="331.30" y="309.10" font-size="7.2" text-anchor="middle">0</text>
<line x1="372.15" y1="297.90" x2="372.15" y2="301.10" stroke="#111" stroke-width="1.0"/>
<text x="372.15" y="309.10" font-size="7.2" text-anchor="middle" textLength="7.21" lengthAdjust="spacingAndGlyphs">12</text>
<line x1="413.00" y1="297.90" x2="413.00" y2="301.10" stroke="#111" stroke-width="1.0"/>
<text x="413.00" y="309.10" font-size="7.2" text-anchor="middle" textLength="7.21" lengthAdjust="spacingAndGlyphs">24</text>
<line x1="453.85" y1="297.90" x2="453.85" y2="301.10" stroke="#111" stroke-width="1.0"/>
<text x="453.85" y="309.10" font-size="7.2" text-anchor="middle" textLength="7.21" lengthAdjust="spacingAndGlyphs">36</text>
<line x1="494.70" y1="297.90" x2="494.70" y2="301.10" stroke="#111" stroke-width="1.0"/>
<text x="494.70" y="309.10" font-size="7.2" text-anchor="middle" textLength="7.21" lengthAdjust="spacingAndGlyphs">48</text>
<text transform="translate(308.40,251.80) rotate(-90)" font-size="8.2" text-anchor="middle" textLength="67.5" lengthAdjust="spacingAndGlyphs">Probability of survival</text>
<text x="397.90" y="318.90" font-size="7.5" textLength="34.60" lengthAdjust="spacingAndGlyphs">OS months</text>
<text x="418.40" y="197.60" font-size="6.5" text-anchor="middle">N</text>
<text x="439.90" y="197.60" font-size="6.5" text-anchor="middle" textLength="19.80" lengthAdjust="spacingAndGlyphs">Events</text>
<text x="471.40" y="197.60" font-size="6.5" text-anchor="middle" textLength="33.70" lengthAdjust="spacingAndGlyphs">mOS (mos)</text>
<line x1="412.70" y1="200.40" x2="489.00" y2="200.40" stroke="#333" stroke-width="0.7"/>
<line x1="362.70" y1="206.30" x2="374.20" y2="206.30" stroke="#b3183a" stroke-width="1.15"/>
<line x1="368.45" y1="204.50" x2="368.45" y2="206.80" stroke="#b3183a" stroke-width="0.8"/>
<text x="376.50" y="208.40" font-size="7.0" textLength="7.50" lengthAdjust="spacingAndGlyphs">SF</text>
<text x="384.30" y="205.90" font-size="4.7" textLength="7.83" lengthAdjust="spacingAndGlyphs">mut</text>
<text x="392.70" y="208.40" font-size="7.0" textLength="14.86" lengthAdjust="spacingAndGlyphs">Ven+</text>
<text x="418.50" y="208.40" font-size="7.0" text-anchor="middle" textLength="11.10" lengthAdjust="spacingAndGlyphs" fill="#c0284a" stroke="#c0284a">129</text>
<text x="440.00" y="208.40" font-size="7.0" text-anchor="middle" textLength="7.40" lengthAdjust="spacingAndGlyphs" fill="#c0284a" stroke="#c0284a">77</text>
<text x="477.70" y="208.40" font-size="7.0" text-anchor="end" textLength="12.94" lengthAdjust="spacingAndGlyphs" fill="#c0284a" stroke="#c0284a">14.1</text>
<line x1="362.70" y1="215.40" x2="374.20" y2="215.40" stroke="#1d4468" stroke-width="1.15"/>
<line x1="368.45" y1="213.60" x2="368.45" y2="215.90" stroke="#1d4468" stroke-width="0.8"/>
<text x="376.50" y="217.30" font-size="7.0" textLength="7.50" lengthAdjust="spacingAndGlyphs">SF</text>
<text x="384.30" y="214.80" font-size="4.7" textLength="4.70" lengthAdjust="spacingAndGlyphs">wt</text>
<text x="390.60" y="217.30" font-size="7.0" textLength="14.86" lengthAdjust="spacingAndGlyphs">Ven+</text>
<text x="418.50" y="217.30" font-size="7.0" text-anchor="middle" textLength="11.10" lengthAdjust="spacingAndGlyphs" fill="#2a6496" stroke="#2a6496">254</text>
<text x="440.00" y="217.30" font-size="7.0" text-anchor="middle" textLength="11.10" lengthAdjust="spacingAndGlyphs" fill="#2a6496" stroke="#2a6496">157</text>
<text x="477.70" y="217.30" font-size="7.0" text-anchor="end" textLength="9.24" lengthAdjust="spacingAndGlyphs" fill="#2a6496" stroke="#2a6496">9.6</text>
<line x1="362.70" y1="225.00" x2="374.20" y2="225.00" stroke="#b3183a" stroke-width="1.15" stroke-dasharray="2.6 1.6"/>
<line x1="368.45" y1="223.20" x2="368.45" y2="225.50" stroke="#b3183a" stroke-width="0.8"/>
<text x="376.50" y="226.20" font-size="7.0" textLength="7.50" lengthAdjust="spacingAndGlyphs">SF</text>
<text x="384.30" y="223.70" font-size="4.7" textLength="7.83" lengthAdjust="spacingAndGlyphs">mut</text>
<text x="392.70" y="226.20" font-size="7.0" textLength="14.69" lengthAdjust="spacingAndGlyphs">Ven–</text>
<text x="418.50" y="226.20" font-size="7.0" text-anchor="middle" textLength="7.40" lengthAdjust="spacingAndGlyphs" fill="#c0284a" stroke="#c0284a">71</text>
<text x="440.00" y="226.20" font-size="7.0" text-anchor="middle" textLength="7.40" lengthAdjust="spacingAndGlyphs" fill="#c0284a" stroke="#c0284a">58</text>
<text x="477.70" y="226.20" font-size="7.0" text-anchor="end" textLength="9.24" lengthAdjust="spacingAndGlyphs" fill="#c0284a" stroke="#c0284a">6.8</text>
<line x1="362.70" y1="233.70" x2="374.20" y2="233.70" stroke="#1d4468" stroke-width="1.15" stroke-dasharray="2.6 1.6"/>
<line x1="368.45" y1="231.90" x2="368.45" y2="234.20" stroke="#1d4468" stroke-width="0.8"/>
<text x="376.50" y="234.90" font-size="7.0" textLength="7.50" lengthAdjust="spacingAndGlyphs">SF</text>
<text x="384.30" y="232.40" font-size="4.7" textLength="4.70" lengthAdjust="spacingAndGlyphs">wt</text>
<text x="390.60" y="234.90" font-size="7.0" textLength="14.69" lengthAdjust="spacingAndGlyphs">Ven–</text>
<text x="418.50" y="234.90" font-size="7.0" text-anchor="middle" textLength="10.60" lengthAdjust="spacingAndGlyphs" fill="#2a6496" stroke="#2a6496">112</text>
<text x="440.00" y="234.90" font-size="7.0" text-anchor="middle" textLength="7.40" lengthAdjust="spacingAndGlyphs" fill="#2a6496" stroke="#2a6496">96</text>
<text x="477.70" y="234.90" font-size="7.0" text-anchor="end" textLength="9.24" lengthAdjust="spacingAndGlyphs" fill="#2a6496" stroke="#2a6496">7.1</text>
<line x1="479.60" y1="204.20" x2="479.60" y2="216.70" stroke="#333" stroke-width="0.7"/>
<line x1="477.80" y1="204.20" x2="479.60" y2="204.20" stroke="#333" stroke-width="0.7"/>
<line x1="477.80" y1="216.70" x2="479.60" y2="216.70" stroke="#333" stroke-width="0.7"/>
<text x="481.9" y="211.0" font-size="6.8" textLength="31.4" lengthAdjust="spacingAndGlyphs"><tspan font-style="italic">P</tspan> log rank</text>
<text x="481.90" y="217.70" font-size="6.8" textLength="8.23" lengthAdjust="spacingAndGlyphs">.11</text>
<polyline points="331.40,209.20 334.20,217.70 337.10,223.40 341.30,230.50 344.10,237.50 348.40,243.20 352.60,248.80 356.90,254.50 361.10,260.20 366.80,265.80 372.40,271.50 379.50,277.80 387.30,281.50 398.80,283.30 402.30,284.40 408.10,286.10 415.00,287.90 425.40,289.60 431.10,290.70 445.00,290.70 455.00,293.60 496.30,294.20" fill="none" stroke="#1d4468" stroke-width="1.4" stroke-linejoin="miter" stroke-dasharray="3.6 2.0"/>
<polyline points="331.40,209.20 334.20,216.30 337.10,224.80 339.90,231.20 342.70,238.20 344.10,244.60 347.00,248.10 351.20,251.70 355.50,255.20 361.10,258.70 366.80,261.60 372.40,264.40 379.50,267.20 385.00,269.40 387.30,272.30 395.40,274.00 400.00,276.90 402.30,279.80 415.00,281.00 427.70,281.50 429.40,284.40 430.00,288.40 445.00,289.00 471.30,290.60 496.30,292.50" fill="none" stroke="#b3183a" stroke-width="1.4" stroke-linejoin="miter" stroke-dasharray="3.6 2.0"/>
<polyline points="331.40,209.20 331.40,209.91 332.47,209.91 332.47,211.34 333.55,211.34 333.55,212.76 334.62,212.76 334.62,214.19 335.70,214.19 335.70,214.90 335.70,215.54 336.26,215.54 336.26,216.82 336.82,216.82 336.82,218.10 337.38,218.10 337.38,219.38 337.94,219.38 337.94,220.66 338.50,220.66 338.50,221.30 338.50,221.91 339.20,221.91 339.20,223.14 339.90,223.14 339.90,224.36 340.60,224.36 340.60,225.59 341.30,225.59 341.30,226.20 341.30,226.91 342.38,226.91 342.38,228.34 343.45,228.34 343.45,229.76 344.53,229.76 344.53,231.19 345.60,231.19 345.60,231.90 345.60,232.51 346.65,232.51 346.65,233.74 347.70,233.74 347.70,234.96 348.75,234.96 348.75,236.19 349.80,236.19 349.80,236.80 349.80,237.51 350.85,237.51 350.85,238.94 351.90,238.94 351.90,240.36 352.95,240.36 352.95,241.79 354.00,241.79 354.00,242.50 354.00,243.11 355.07,243.11 355.07,244.34 356.15,244.34 356.15,245.56 357.23,245.56 357.23,246.79 358.30,246.79 358.30,247.40 358.30,248.12 359.70,248.12 359.70,249.55 361.10,249.55 361.10,250.98 362.50,250.98 362.50,251.70 362.50,252.40 363.93,252.40 363.93,253.80 365.37,253.80 365.37,255.20 366.80,255.20 366.80,255.90 366.80,256.50 368.20,256.50 368.20,257.70 369.60,257.70 369.60,258.90 371.00,258.90 371.00,259.50 371.00,260.20 373.85,260.20 373.85,261.60 376.70,261.60 376.70,262.30 376.70,263.00 380.20,263.00 380.20,264.40 383.70,264.40 383.70,265.10 383.70,265.55 391.90,265.55 391.90,266.00 391.90,266.85 394.20,266.85 394.20,267.70 394.20,268.25 400.00,268.25 400.00,268.80 400.00,269.40 408.10,269.40 408.10,270.00 408.10,270.10 417.30,270.10 417.30,270.20 417.30,270.73 418.45,270.73 418.45,271.77 419.60,271.77 419.60,272.30 433.40,272.30 433.40,272.60 440.40,272.60 440.40,272.90 440.40,273.35 442.50,273.35 442.50,273.80 463.80,273.80 463.80,274.43 463.95,274.43 463.95,275.68 464.10,275.68 464.10,276.93 464.25,276.93 464.25,278.18 464.40,278.18 464.40,278.80 482.50,278.80 482.50,297.90" fill="none" stroke="#1d4468" stroke-width="1.6" stroke-linejoin="miter"/>
<polyline points="331.40,209.20 331.40,209.92 332.83,209.92 332.83,211.35 334.27,211.35 334.27,212.78 335.70,212.78 335.70,213.50 335.70,214.11 336.40,214.11 336.40,215.34 337.10,215.34 337.10,216.56 337.80,216.56 337.80,217.79 338.50,217.79 338.50,218.40 338.50,219.03 339.20,219.03 339.20,220.28 339.90,220.28 339.90,221.53 340.60,221.53 340.60,222.78 341.30,222.78 341.30,223.40 341.30,224.10 342.73,224.10 342.73,225.50 344.17,225.50 344.17,226.90 345.60,226.90 345.60,227.60 345.60,228.20 347.00,228.20 347.00,229.40 348.40,229.40 348.40,230.60 349.80,230.60 349.80,231.20 349.80,231.78 351.47,231.78 351.47,232.95 353.13,232.95 353.13,234.12 354.80,234.12 354.80,234.70 354.80,235.42 355.97,235.42 355.97,236.85 357.13,236.85 357.13,238.28 358.30,238.28 358.30,239.00 358.30,239.58 359.70,239.58 359.70,240.75 361.10,240.75 361.10,241.92 362.50,241.92 362.50,242.50 362.50,243.20 364.65,243.20 364.65,244.60 366.80,244.60 366.80,245.30 366.80,245.83 369.60,245.83 369.60,246.88 372.40,246.88 372.40,247.40 372.40,248.12 374.55,248.12 374.55,249.58 376.70,249.58 376.70,250.30 376.70,250.88 377.87,250.88 377.87,252.05 379.03,252.05 379.03,253.22 380.20,253.22 380.20,253.80 380.20,254.38 380.90,254.38 380.90,255.55 381.60,255.55 381.60,256.72 382.30,256.72 382.30,257.30 394.20,257.30 394.20,258.02 395.35,258.02 395.35,259.48 396.50,259.48 396.50,260.20 396.50,260.77 398.25,260.77 398.25,261.93 400.00,261.93 400.00,262.50 415.60,262.50 415.60,263.07 417.00,263.07 417.00,264.23 418.40,264.23 418.40,264.80 418.40,265.52 420.15,265.52 420.15,266.98 421.90,266.98 421.90,267.70 434.60,267.70 434.60,268.32 435.15,268.32 435.15,269.57 435.70,269.57 435.70,270.20 435.70,270.40 441.50,270.40 441.50,270.60 441.50,271.23 442.00,271.23 442.00,272.48 442.50,272.48 442.50,273.10 453.80,273.10 453.80,279.00 490.60,279.00 490.60,279.65 490.70,279.65 490.70,280.95 490.80,280.95 490.80,282.25 490.90,282.25 490.90,283.55 491.00,283.55 491.00,284.85 491.10,284.85 491.10,286.15 491.20,286.15 491.20,287.45 491.30,287.45 491.30,288.10" fill="none" stroke="#b3183a" stroke-width="1.6" stroke-linejoin="miter"/>
<path d="M355.00,241.64V244.09M358.24,245.33V247.78M364.60,251.75V254.20M368.92,255.72V258.17M374.44,259.19V261.64M377.92,260.79V263.24M385.24,263.27V265.72M389.20,263.70V266.15M395.08,265.87V268.32M398.92,266.60V269.05M403.84,267.37V269.82M407.08,267.85V270.30M413.44,268.12V270.57M417.76,268.62V271.07M423.28,270.30V272.75M426.76,270.30V272.75M434.08,270.36V272.81M438.04,270.70V273.15M443.92,271.80V274.25M447.76,271.80V274.25M452.68,271.80V274.25M455.92,271.80V274.25M462.28,271.80V274.25M466.60,276.80V279.25M472.12,276.80V279.25M475.60,276.80V279.25" stroke="#1d4468" stroke-width="0.9" fill="none"/>
<path d="M355.00,232.95V235.40M360.52,238.85V241.30M364.00,241.48V243.93M371.32,245.00V247.44M375.28,247.34V249.79M381.16,253.40V255.85M385.00,255.30V257.75M389.92,255.30V257.75M393.16,255.30V257.75M399.52,260.18V262.63M403.84,260.50V262.95M409.36,260.50V262.95M412.84,260.50V262.95M420.16,264.26V266.71M424.12,265.70V268.15M430.00,265.70V268.15M433.84,265.70V268.15M438.76,268.41V270.86M442.00,269.85V272.30M448.36,271.10V273.55M452.68,271.10V273.55M458.20,277.00V279.45M461.68,277.00V279.45M469.00,277.00V279.45M472.96,277.00V279.45M478.84,277.00V279.45M482.68,277.00V279.45M487.60,277.00V279.45M490.84,280.12V282.57" stroke="#b3183a" stroke-width="0.9" fill="none"/>
<path d="M380.00,276.04V278.49M388.20,279.64V282.09M393.60,280.49V282.94M404.20,282.96V285.41M411.40,284.96V287.41M420.60,286.82V289.27M426.40,287.79V290.24M438.60,288.70V291.15M445.20,288.76V291.21M455.00,291.60V294.05M461.40,291.69V294.14M469.60,291.81V294.26M475.00,291.89V294.34M485.60,292.04V294.49M492.80,292.15V294.60" stroke="#1d4468" stroke-width="0.9" fill="none"/>
<path d="M380.00,265.40V267.85M387.20,270.17V272.62M396.40,272.63V275.08M402.20,277.67V280.12M414.40,278.94V281.39M421.00,279.24V281.69M430.80,286.43V288.88M437.20,286.69V289.14M445.40,287.02V289.47M450.80,287.35V289.80M461.40,288.00V290.45M468.60,288.44V290.89M477.80,289.09V291.54M483.60,289.53V291.98M495.80,290.46V292.91" stroke="#b3183a" stroke-width="0.9" fill="none"/>
<text x="7.60" y="348.00" font-size="11.9" fill="#111" stroke="#111" font-weight="bold">E</text>
<text x="96.00" y="355.40" font-size="8.9" textLength="99.50" lengthAdjust="spacingAndGlyphs">Relapse free survival (RFS)</text>
<line x1="71.70" y1="362.10" x2="71.70" y2="370.40" stroke="#111" stroke-width="1.1"/>
<line x1="71.70" y1="367.90" x2="71.70" y2="455.80" stroke="#000" stroke-width="1.25"/>
<line x1="71.10" y1="455.20" x2="229.90" y2="455.20" stroke="#000" stroke-width="1.25"/>
<line x1="68.50" y1="455.20" x2="71.70" y2="455.20" stroke="#222" stroke-width="0.9"/>
<text x="65.50" y="457.80" font-size="7.2" text-anchor="end">0</text>
<line x1="68.50" y1="434.00" x2="71.70" y2="434.00" stroke="#222" stroke-width="0.9"/>
<text x="65.50" y="436.60" font-size="7.2" text-anchor="end" textLength="7.21" lengthAdjust="spacingAndGlyphs">25</text>
<line x1="68.50" y1="412.80" x2="71.70" y2="412.80" stroke="#222" stroke-width="0.9"/>
<text x="65.50" y="415.40" font-size="7.2" text-anchor="end" textLength="7.21" lengthAdjust="spacingAndGlyphs">50</text>
<line x1="68.50" y1="391.60" x2="71.70" y2="391.60" stroke="#222" stroke-width="0.9"/>
<text x="65.50" y="394.20" font-size="7.2" text-anchor="end" textLength="7.21" lengthAdjust="spacingAndGlyphs">75</text>
<line x1="68.50" y1="370.40" x2="71.70" y2="370.40" stroke="#222" stroke-width="0.9"/>
<text x="65.50" y="373.00" font-size="7.2" text-anchor="end" textLength="10.81" lengthAdjust="spacingAndGlyphs">100</text>
<line x1="71.70" y1="455.20" x2="71.70" y2="458.40" stroke="#111" stroke-width="1.0"/>
<text x="71.70" y="466.60" font-size="7.2" text-anchor="middle">0</text>
<line x1="118.77" y1="455.20" x2="118.77" y2="458.40" stroke="#111" stroke-width="1.0"/>
<text x="118.77" y="466.60" font-size="7.2" text-anchor="middle" textLength="7.21" lengthAdjust="spacingAndGlyphs">12</text>
<line x1="165.83" y1="455.20" x2="165.83" y2="458.40" stroke="#111" stroke-width="1.0"/>
<text x="165.83" y="466.60" font-size="7.2" text-anchor="middle" textLength="7.21" lengthAdjust="spacingAndGlyphs">24</text>
<line x1="212.90" y1="455.20" x2="212.90" y2="458.40" stroke="#111" stroke-width="1.0"/>
<text x="212.90" y="466.60" font-size="7.2" text-anchor="middle" textLength="7.21" lengthAdjust="spacingAndGlyphs">36</text>
<text transform="translate(48.40,408.10) rotate(-90)" font-size="8.2" text-anchor="middle" textLength="67" lengthAdjust="spacingAndGlyphs">Probability of survival</text>
<text x="20.00" y="466.30" font-size="7.0" textLength="38.00" lengthAdjust="spacingAndGlyphs">RFS, months</text>
<text x="136.60" y="368.80" font-size="7.0" text-anchor="middle">N</text>
<text x="159.10" y="368.80" font-size="7.0" text-anchor="middle" textLength="20.20" lengthAdjust="spacingAndGlyphs">Events</text>
<text x="199.40" y="368.80" font-size="7.0" text-anchor="middle" textLength="35.50" lengthAdjust="spacingAndGlyphs">mRFS (mos)</text>
<line x1="131.50" y1="371.10" x2="218.00" y2="371.10" stroke="#333" stroke-width="0.7"/>
<line x1="89.30" y1="376.40" x2="99.80" y2="376.40" stroke="#b3183a" stroke-width="1.15"/>
<line x1="94.55" y1="374.60" x2="94.55" y2="376.90" stroke="#b3183a" stroke-width="0.8"/>
<line x1="89.30" y1="386.00" x2="99.80" y2="386.00" stroke="#1d4468" stroke-width="1.15"/>
<line x1="94.55" y1="384.20" x2="94.55" y2="386.50" stroke="#1d4468" stroke-width="0.8"/>
<text x="106.60" y="378.80" font-size="7.0" textLength="7.50" lengthAdjust="spacingAndGlyphs">SF</text>
<text x="114.40" y="376.00" font-size="4.9" textLength="8.17" lengthAdjust="spacingAndGlyphs">mut</text>
<text x="106.60" y="388.30" font-size="7.0" textLength="7.50" lengthAdjust="spacingAndGlyphs">SF</text>
<text x="114.40" y="385.50" font-size="4.9" textLength="4.90" lengthAdjust="spacingAndGlyphs">wt</text>
<text x="131.10" y="378.80" font-size="7.0" textLength="7.16" lengthAdjust="spacingAndGlyphs">61</text>
<text x="159.30" y="378.80" font-size="7.0" text-anchor="middle" textLength="7.16" lengthAdjust="spacingAndGlyphs">53</text>
<text x="189.30" y="378.80" font-size="7.0" text-anchor="middle" textLength="8.95" lengthAdjust="spacingAndGlyphs">6.0</text>
<text x="131.10" y="388.30" font-size="7.0" textLength="10.27" lengthAdjust="spacingAndGlyphs">114</text>
<text x="159.30" y="388.30" font-size="7.0" text-anchor="middle" textLength="7.16" lengthAdjust="spacingAndGlyphs">89</text>
<text x="189.30" y="388.30" font-size="7.0" text-anchor="middle" textLength="8.95" lengthAdjust="spacingAndGlyphs">5.0</text>
<text x="136.9" y="409.6" font-size="7.5" textLength="47.6" lengthAdjust="spacingAndGlyphs"><tspan font-style="italic">P</tspan> log rank = .64</text>
<polyline points="71.70,370.40 71.70,371.15 74.90,371.15 74.90,371.90 74.90,372.59 75.02,372.59 75.02,373.97 75.14,373.97 75.14,375.35 75.26,375.35 75.26,376.73 75.38,376.73 75.38,378.11 75.50,378.11 75.50,378.80 75.50,379.53 75.92,379.53 75.92,380.98 76.35,380.98 76.35,382.43 76.78,382.43 76.78,383.88 77.20,383.88 77.20,384.60 77.20,385.18 77.78,385.18 77.78,386.32 78.35,386.32 78.35,387.48 78.92,387.48 78.92,388.62 79.50,388.62 79.50,389.20 79.50,389.93 80.22,389.93 80.22,391.38 80.95,391.38 80.95,392.82 81.68,392.82 81.68,394.27 82.40,394.27 82.40,395.00 82.40,395.66 82.81,395.66 82.81,396.97 83.23,396.97 83.23,398.29 83.64,398.29 83.64,399.60 84.06,399.60 84.06,400.91 84.47,400.91 84.47,402.23 84.89,402.23 84.89,403.54 85.30,403.54 85.30,404.20 85.30,404.78 86.27,404.78 86.27,405.95 87.23,405.95 87.23,407.12 88.20,407.12 88.20,407.70 88.20,408.37 88.97,408.37 88.97,409.70 89.73,409.70 89.73,411.03 90.50,411.03 90.50,411.70 90.50,412.37 90.87,412.37 90.87,413.70 91.23,413.70 91.23,415.03 91.60,415.03 91.60,415.70 91.60,416.60 95.70,416.60 95.70,417.50 95.70,418.17 97.23,418.17 97.23,419.50 98.77,419.50 98.77,420.83 100.30,420.83 100.30,421.50 100.30,422.08 101.47,422.08 101.47,423.25 102.63,423.25 102.63,424.42 103.80,424.42 103.80,425.00 103.80,425.30 108.40,425.30 108.40,425.60 108.40,426.18 110.10,426.18 110.10,427.32 111.80,427.32 111.80,427.90 111.80,428.47 112.95,428.47 112.95,429.62 114.10,429.62 114.10,430.77 115.25,430.77 115.25,431.93 116.40,431.93 116.40,432.50 116.40,433.35 118.80,433.35 118.80,434.20 118.80,434.10 125.00,434.10 125.00,434.00 125.00,434.55 131.30,434.55 131.30,435.10 131.30,435.65 141.90,435.65 141.90,436.20 141.90,436.70 152.50,436.70 152.50,437.20 163.10,437.20 163.10,437.90 167.30,437.90 167.30,439.30 171.50,439.30 171.50,440.00 171.50,440.20 180.00,440.20 180.00,440.40 180.00,440.90 185.30,440.90 185.30,441.40 185.30,442.10 186.35,442.10 186.35,443.50 187.40,443.50 187.40,444.20 187.40,444.95 189.00,444.95 189.00,446.45 190.60,446.45 190.60,447.20 203.30,447.20 203.30,448.00 205.40,448.00 205.40,448.80 205.40,449.05 211.70,449.05 211.70,449.30 211.70,455.20" fill="none" stroke="#1d4468" stroke-width="1.6" stroke-linejoin="miter"/>
<polyline points="71.70,370.40 71.70,370.30 74.90,370.30 74.90,370.20 74.90,370.85 75.20,370.85 75.20,372.15 75.50,372.15 75.50,373.45 75.80,373.45 75.80,374.75 76.10,374.75 76.10,375.40 76.10,376.09 76.22,376.09 76.22,377.47 76.34,377.47 76.34,378.85 76.46,378.85 76.46,380.23 76.58,380.23 76.58,381.61 76.70,381.61 76.70,382.30 76.70,382.95 77.28,382.95 77.28,384.25 77.85,384.25 77.85,385.55 78.42,385.55 78.42,386.85 79.00,386.85 79.00,387.50 79.00,388.15 79.42,388.15 79.42,389.45 79.85,389.45 79.85,390.75 80.28,390.75 80.28,392.05 80.70,392.05 80.70,392.70 80.70,393.27 81.27,393.27 81.27,394.40 81.83,394.40 81.83,395.53 82.40,395.53 82.40,396.10 82.40,396.83 83.55,396.83 83.55,398.27 84.70,398.27 84.70,399.00 84.70,399.73 86.45,399.73 86.45,401.17 88.20,401.17 88.20,401.90 88.20,402.48 89.53,402.48 89.53,403.65 90.87,403.65 90.87,404.82 92.20,404.82 92.20,405.40 92.20,405.97 92.80,405.97 92.80,407.10 93.40,407.10 93.40,408.23 94.00,408.23 94.00,408.80 94.00,409.38 94.28,409.38 94.28,410.52 94.55,410.52 94.55,411.68 94.82,411.68 94.82,412.82 95.10,412.82 95.10,413.40 95.10,414.12 95.40,414.12 95.40,415.57 95.70,415.57 95.70,416.30 95.70,416.60 99.10,416.60 99.10,416.90 99.10,417.47 100.85,417.47 100.85,418.62 102.60,418.62 102.60,419.20 102.60,419.93 105.20,419.93 105.20,421.38 107.80,421.38 107.80,422.10 107.80,422.77 108.37,422.77 108.37,424.10 108.93,424.10 108.93,425.43 109.50,425.43 109.50,426.10 109.50,427.00 114.10,427.00 114.10,427.90 114.10,428.75 119.90,428.75 119.90,429.60 119.90,430.18 122.45,430.18 122.45,431.32 125.00,431.32 125.00,431.90 125.00,432.45 127.10,432.45 127.10,433.00 141.90,433.00 141.90,433.52 142.95,433.52 142.95,434.58 144.00,434.58 144.00,435.10 144.00,435.65 150.40,435.65 150.40,436.20 150.40,436.82 152.50,436.82 152.50,438.07 154.60,438.07 154.60,438.70 154.60,439.00 161.00,439.00 161.00,439.30 161.00,439.82 162.05,439.82 162.05,440.88 163.10,440.88 163.10,441.40 163.10,441.95 166.25,441.95 166.25,443.05 169.40,443.05 169.40,443.60 169.40,444.10 182.10,444.10 182.10,444.60 182.10,445.12 182.65,445.12 182.65,446.18 183.20,446.18 183.20,446.70 183.20,447.25 189.50,447.25 189.50,447.80 205.40,447.80 205.40,448.55 206.40,448.55 206.40,449.30 218.10,449.30 218.10,449.89 218.16,449.89 218.16,451.07 218.22,451.07 218.22,452.25 218.28,452.25 218.28,453.43 218.34,453.43 218.34,454.61 218.40,454.61 218.40,455.20" fill="none" stroke="#b3183a" stroke-width="1.6" stroke-linejoin="miter"/>
<text x="24.30" y="484.50" font-size="7.0" textLength="13.60" lengthAdjust="spacingAndGlyphs">NAR</text>
<text x="45.80" y="480.00" font-size="7.0" textLength="7.50" lengthAdjust="spacingAndGlyphs" fill="#c0284a" stroke="#c0284a">SF</text>
<text x="53.60" y="477.20" font-size="4.9" textLength="8.17" lengthAdjust="spacingAndGlyphs" fill="#c0284a" stroke="#c0284a">mut</text>
<text x="45.80" y="491.10" font-size="7.0" textLength="7.50" lengthAdjust="spacingAndGlyphs" fill="#2a6496" stroke="#2a6496">SF</text>
<text x="53.60" y="488.30" font-size="4.9" textLength="4.90" lengthAdjust="spacingAndGlyphs" fill="#2a6496" stroke="#2a6496">wt</text>
<text x="71.70" y="480.00" font-size="7.0" text-anchor="middle" textLength="7.16" lengthAdjust="spacingAndGlyphs">61</text>
<text x="71.70" y="491.10" font-size="7.0" text-anchor="middle" textLength="10.27" lengthAdjust="spacingAndGlyphs">114</text>
<text x="118.77" y="480.00" font-size="7.0" text-anchor="middle" textLength="7.16" lengthAdjust="spacingAndGlyphs">19</text>
<text x="118.77" y="491.10" font-size="7.0" text-anchor="middle" textLength="7.16" lengthAdjust="spacingAndGlyphs">22</text>
<text x="165.83" y="480.00" font-size="7.0" text-anchor="middle">7</text>
<text x="165.83" y="491.10" font-size="7.0" text-anchor="middle" textLength="7.16" lengthAdjust="spacingAndGlyphs">14</text>
<text x="212.90" y="480.00" font-size="7.0" text-anchor="middle">3</text>
<text x="212.90" y="491.10" font-size="7.0" text-anchor="middle">1</text>
<path d="M100.00,419.24V421.69M104.05,423.03V425.48M112.00,426.10V428.55M117.40,431.21V433.66M124.30,432.02V434.47M128.65,432.64V435.09M137.80,433.77V436.22M142.75,434.28V436.73M150.10,434.97V437.42M154.90,435.20V437.65M161.05,435.20V437.65M165.10,435.87V438.32M173.05,438.07V440.52M178.45,438.33V440.78M185.35,439.47V441.92M189.70,444.36V446.81M198.85,445.20V447.65M203.80,445.58V448.03" stroke="#1d4468" stroke-width="0.9" fill="none"/>
<path d="M100.00,415.49V417.94M106.90,419.60V422.05M111.25,424.78V427.23M120.40,427.83V430.28M125.35,430.08V432.53M132.70,431.00V433.45M137.50,431.00V433.45M143.65,432.75V435.20M147.70,433.74V436.19M155.65,436.80V439.25M161.05,437.35V439.80M167.95,441.09V443.54M172.30,441.83V444.28M181.45,442.55V445.00M186.40,445.26V447.71M193.75,445.80V448.25M198.55,445.80V448.25M204.70,445.80V448.25M208.75,447.30V449.75M216.70,447.30V449.75" stroke="#b3183a" stroke-width="0.9" fill="none"/>
<text x="271.60" y="347.80" font-size="11.9" fill="#111" stroke="#111" font-weight="bold">F</text>
<text x="373.20" y="355.50" font-size="8.9" textLength="77.00" lengthAdjust="spacingAndGlyphs">Overall survival (OS)</text>
<line x1="331.50" y1="361.30" x2="331.50" y2="370.40" stroke="#111" stroke-width="1.1"/>
<line x1="331.50" y1="367.90" x2="331.50" y2="455.80" stroke="#000" stroke-width="1.25"/>
<line x1="330.90" y1="455.20" x2="491.70" y2="455.20" stroke="#000" stroke-width="1.25"/>
<line x1="328.30" y1="455.20" x2="331.50" y2="455.20" stroke="#222" stroke-width="0.9"/>
<text x="325.30" y="457.80" font-size="7.2" text-anchor="end">0</text>
<line x1="328.30" y1="434.00" x2="331.50" y2="434.00" stroke="#222" stroke-width="0.9"/>
<text x="325.30" y="436.60" font-size="7.2" text-anchor="end" textLength="7.21" lengthAdjust="spacingAndGlyphs">25</text>
<line x1="328.30" y1="412.80" x2="331.50" y2="412.80" stroke="#222" stroke-width="0.9"/>
<text x="325.30" y="415.40" font-size="7.2" text-anchor="end" textLength="7.21" lengthAdjust="spacingAndGlyphs">50</text>
<line x1="328.30" y1="391.60" x2="331.50" y2="391.60" stroke="#222" stroke-width="0.9"/>
<text x="325.30" y="394.20" font-size="7.2" text-anchor="end" textLength="7.21" lengthAdjust="spacingAndGlyphs">75</text>
<line x1="328.30" y1="370.40" x2="331.50" y2="370.40" stroke="#222" stroke-width="0.9"/>
<text x="325.30" y="373.00" font-size="7.2" text-anchor="end" textLength="10.81" lengthAdjust="spacingAndGlyphs">100</text>
<line x1="331.50" y1="455.20" x2="331.50" y2="458.40" stroke="#111" stroke-width="1.0"/>
<text x="331.50" y="466.60" font-size="7.2" text-anchor="middle">0</text>
<line x1="370.82" y1="455.20" x2="370.82" y2="458.40" stroke="#111" stroke-width="1.0"/>
<text x="370.82" y="466.60" font-size="7.2" text-anchor="middle" textLength="7.21" lengthAdjust="spacingAndGlyphs">12</text>
<line x1="410.15" y1="455.20" x2="410.15" y2="458.40" stroke="#111" stroke-width="1.0"/>
<text x="410.15" y="466.60" font-size="7.2" text-anchor="middle" textLength="7.21" lengthAdjust="spacingAndGlyphs">24</text>
<line x1="449.48" y1="455.20" x2="449.48" y2="458.40" stroke="#111" stroke-width="1.0"/>
<text x="449.48" y="466.60" font-size="7.2" text-anchor="middle" textLength="7.21" lengthAdjust="spacingAndGlyphs">36</text>
<line x1="488.80" y1="455.20" x2="488.80" y2="458.40" stroke="#111" stroke-width="1.0"/>
<text x="488.80" y="466.60" font-size="7.2" text-anchor="middle" textLength="7.21" lengthAdjust="spacingAndGlyphs">48</text>
<text transform="translate(308.00,408.10) rotate(-90)" font-size="8.2" text-anchor="middle" textLength="67" lengthAdjust="spacingAndGlyphs">Probability of survival</text>
<text x="285.00" y="466.30" font-size="7.0" textLength="35.70" lengthAdjust="spacingAndGlyphs">OS, months</text>
<text x="393.10" y="368.30" font-size="7.0" text-anchor="middle">N</text>
<text x="415.90" y="368.30" font-size="7.0" text-anchor="middle" textLength="20.20" lengthAdjust="spacingAndGlyphs">Events</text>
<text x="456.40" y="368.30" font-size="7.0" text-anchor="middle" textLength="33.80" lengthAdjust="spacingAndGlyphs">mOS (mos)</text>
<line x1="387.60" y1="371.10" x2="474.10" y2="371.10" stroke="#333" stroke-width="0.7"/>
<line x1="347.20" y1="376.90" x2="357.90" y2="376.90" stroke="#b3183a" stroke-width="1.15"/>
<line x1="352.55" y1="375.10" x2="352.55" y2="377.40" stroke="#b3183a" stroke-width="0.8"/>
<line x1="347.20" y1="384.70" x2="357.90" y2="384.70" stroke="#1d4468" stroke-width="1.15"/>
<line x1="352.55" y1="382.90" x2="352.55" y2="385.20" stroke="#1d4468" stroke-width="0.8"/>
<text x="364.50" y="379.00" font-size="7.0" textLength="7.50" lengthAdjust="spacingAndGlyphs">SF</text>
<text x="372.30" y="376.20" font-size="4.9" textLength="8.17" lengthAdjust="spacingAndGlyphs">mut</text>
<text x="364.50" y="387.00" font-size="7.0" textLength="7.50" lengthAdjust="spacingAndGlyphs">SF</text>
<text x="372.30" y="384.20" font-size="4.9" textLength="4.90" lengthAdjust="spacingAndGlyphs">wt</text>
<text x="393.80" y="379.00" font-size="7.0" text-anchor="middle" textLength="10.74" lengthAdjust="spacingAndGlyphs">104</text>
<text x="416.40" y="379.00" font-size="7.0" text-anchor="middle" textLength="7.16" lengthAdjust="spacingAndGlyphs">83</text>
<text x="445.30" y="379.00" font-size="7.0" text-anchor="middle" textLength="8.95" lengthAdjust="spacingAndGlyphs">9.1</text>
<text x="393.80" y="387.00" font-size="7.0" text-anchor="middle" textLength="10.74" lengthAdjust="spacingAndGlyphs">195</text>
<text x="416.40" y="387.00" font-size="7.0" text-anchor="middle" textLength="10.74" lengthAdjust="spacingAndGlyphs">150</text>
<text x="445.30" y="387.00" font-size="7.0" text-anchor="middle" textLength="8.95" lengthAdjust="spacingAndGlyphs">6.6</text>
<text x="393.4" y="410.1" font-size="7.5" textLength="48" lengthAdjust="spacingAndGlyphs"><tspan font-style="italic">P</tspan> log rank = .08</text>
<polyline points="331.60,370.40 331.60,371.00 332.80,371.00 332.80,372.20 334.00,372.20 334.00,373.40 335.20,373.40 335.20,374.00 335.20,374.66 335.77,374.66 335.77,375.99 336.35,375.99 336.35,377.31 336.93,377.31 336.93,378.64 337.50,378.64 337.50,379.30 337.50,379.90 337.86,379.90 337.86,381.10 338.22,381.10 338.22,382.30 338.58,382.30 338.58,383.50 338.94,383.50 338.94,384.70 339.30,384.70 339.30,385.30 339.30,386.01 339.66,386.01 339.66,387.43 340.02,387.43 340.02,388.85 340.38,388.85 340.38,390.27 340.74,390.27 340.74,391.69 341.10,391.69 341.10,392.40 341.10,393.07 341.55,393.07 341.55,394.43 342.00,394.43 342.00,395.77 342.45,395.77 342.45,397.12 342.90,397.12 342.90,397.80 342.90,398.40 344.40,398.40 344.40,399.60 345.90,399.60 345.90,400.20 345.90,401.10 348.90,401.10 348.90,402.00 348.90,402.60 349.14,402.60 349.14,403.80 349.38,403.80 349.38,405.00 349.62,405.00 349.62,406.20 349.86,406.20 349.86,407.40 350.10,407.40 350.10,408.00 350.10,408.66 350.85,408.66 350.85,409.99 351.60,409.99 351.60,411.31 352.35,411.31 352.35,412.64 353.10,412.64 353.10,413.30 353.10,413.98 353.98,413.98 353.98,415.32 354.85,415.32 354.85,416.68 355.73,416.68 355.73,418.02 356.60,418.02 356.60,418.70 356.60,419.30 357.32,419.30 357.32,420.50 358.04,420.50 358.04,421.70 358.76,421.70 358.76,422.90 359.48,422.90 359.48,424.10 360.20,424.10 360.20,424.70 360.20,425.29 361.10,425.29 361.10,426.46 362.00,426.46 362.00,427.64 362.90,427.64 362.90,428.81 363.80,428.81 363.80,429.40 363.80,430.10 365.40,430.10 365.40,431.50 367.00,431.50 367.00,432.90 368.60,432.90 368.60,433.60 368.60,434.20 370.95,434.20 370.95,435.40 373.30,435.40 373.30,436.00 373.30,436.60 375.70,436.60 375.70,437.80 378.10,437.80 378.10,438.40 378.10,438.65 385.00,438.65 385.00,438.90 385.00,439.45 389.20,439.45 389.20,440.00 389.20,440.20 408.30,440.20 408.30,440.40 408.30,441.25 412.50,441.25 412.50,442.10 412.50,442.30 421.00,442.30 421.00,442.50 421.00,442.70 437.90,442.70 437.90,442.90 476.00,442.90 476.00,455.20" fill="none" stroke="#1d4468" stroke-width="1.6" stroke-linejoin="miter"/>
<polyline points="331.60,370.40 331.60,371.00 333.10,371.00 333.10,372.20 334.60,372.20 334.60,372.80 334.60,373.52 335.50,373.52 335.50,374.98 336.40,374.98 336.40,375.70 336.40,376.40 336.97,376.40 336.97,377.80 337.53,377.80 337.53,379.20 338.10,379.20 338.10,379.90 338.10,380.50 338.90,380.50 338.90,381.70 339.70,381.70 339.70,382.90 340.50,382.90 340.50,383.50 340.50,384.18 340.95,384.18 340.95,385.52 341.40,385.52 341.40,386.88 341.85,386.88 341.85,388.22 342.30,388.22 342.30,388.90 342.30,389.49 342.90,389.49 342.90,390.66 343.50,390.66 343.50,391.84 344.10,391.84 344.10,393.01 344.70,393.01 344.70,393.60 344.70,394.20 345.70,394.20 345.70,395.40 346.70,395.40 346.70,396.60 347.70,396.60 347.70,397.20 347.70,397.95 349.80,397.95 349.80,399.45 351.90,399.45 351.90,400.20 351.90,400.95 353.10,400.95 353.10,402.45 354.30,402.45 354.30,403.20 354.30,403.95 355.45,403.95 355.45,405.45 356.60,405.45 356.60,406.20 356.60,406.86 357.50,406.86 357.50,408.19 358.40,408.19 358.40,409.51 359.30,409.51 359.30,410.84 360.20,410.84 360.20,411.50 360.20,412.10 361.10,412.10 361.10,413.30 362.00,413.30 362.00,414.50 362.90,414.50 362.90,415.70 363.80,415.70 363.80,416.30 363.80,416.90 365.60,416.90 365.60,418.10 367.40,418.10 367.40,418.70 367.40,419.30 371.00,419.30 371.00,419.90 371.00,420.50 372.17,420.50 372.17,421.70 373.33,421.70 373.33,422.90 374.50,422.90 374.50,423.50 374.50,424.10 376.30,424.10 376.30,425.30 378.10,425.30 378.10,425.90 378.10,426.48 379.70,426.48 379.70,427.65 381.30,427.65 381.30,428.82 382.90,428.82 382.90,429.40 382.90,430.15 388.00,430.15 388.00,430.90 388.00,431.40 392.40,431.40 392.40,431.90 392.40,432.70 395.05,432.70 395.05,434.30 397.70,434.30 397.70,435.10 397.70,435.65 398.80,435.65 398.80,436.20 414.60,436.20 414.60,436.73 415.15,436.73 415.15,437.77 415.70,437.77 415.70,438.30 415.70,438.50 424.10,438.50 424.10,438.70 424.10,439.23 424.65,439.23 424.65,440.27 425.20,440.27 425.20,440.80 436.80,440.80 436.80,441.37 437.17,441.37 437.17,442.50 437.53,442.50 437.53,443.63 437.90,443.63 437.90,444.20 437.90,444.40 447.40,444.40 447.40,444.60 447.40,445.26 447.67,445.26 447.67,446.59 447.95,446.59 447.95,447.91 448.23,447.91 448.23,449.24 448.50,449.24 448.50,449.90 464.30,449.90 464.30,450.56 464.48,450.56 464.48,451.89 464.65,451.89 464.65,453.21 464.82,453.21 464.82,454.54 465.00,454.54 465.00,455.20" fill="none" stroke="#b3183a" stroke-width="1.6" stroke-linejoin="miter"/>
<text x="286.30" y="484.30" font-size="7.0" textLength="13.60" lengthAdjust="spacingAndGlyphs">NAR</text>
<text x="308.30" y="480.00" font-size="7.0" textLength="7.50" lengthAdjust="spacingAndGlyphs" fill="#c0284a" stroke="#c0284a">SF</text>
<text x="316.10" y="477.20" font-size="4.9" textLength="8.17" lengthAdjust="spacingAndGlyphs" fill="#c0284a" stroke="#c0284a">mut</text>
<text x="308.30" y="490.80" font-size="7.0" textLength="7.50" lengthAdjust="spacingAndGlyphs" fill="#2a6496" stroke="#2a6496">SF</text>
<text x="316.10" y="488.00" font-size="4.9" textLength="4.90" lengthAdjust="spacingAndGlyphs" fill="#2a6496" stroke="#2a6496">wt</text>
<text x="331.50" y="480.00" font-size="7.0" text-anchor="middle" textLength="10.74" lengthAdjust="spacingAndGlyphs">104</text>
<text x="331.50" y="490.80" font-size="7.0" text-anchor="middle" textLength="10.74" lengthAdjust="spacingAndGlyphs">195</text>
<text x="370.82" y="480.00" font-size="7.0" text-anchor="middle" textLength="7.16" lengthAdjust="spacingAndGlyphs">40</text>
<text x="370.82" y="490.80" font-size="7.0" text-anchor="middle" textLength="7.16" lengthAdjust="spacingAndGlyphs">39</text>
<text x="410.15" y="480.00" font-size="7.0" text-anchor="middle" textLength="7.16" lengthAdjust="spacingAndGlyphs">14</text>
<text x="410.15" y="490.80" font-size="7.0" text-anchor="middle" textLength="7.16" lengthAdjust="spacingAndGlyphs">19</text>
<text x="449.48" y="480.00" font-size="7.0" text-anchor="middle">3</text>
<text x="449.48" y="490.80" font-size="7.0" text-anchor="middle">6</text>
<path d="M365.00,428.45V430.90M368.24,431.29V433.74M374.60,434.65V437.10M378.92,436.46V438.91M384.44,436.86V439.31M387.92,437.66V440.11M395.24,438.13V440.58M399.20,438.21V440.66M405.08,438.33V440.78M408.92,438.65V441.10M413.84,440.16V442.61M417.08,440.32V442.77M423.44,440.56V443.01M427.76,440.66V443.11M433.28,440.79V443.24M436.76,440.87V443.32M444.08,440.90V443.35M448.04,440.90V443.35M453.92,440.90V443.35M457.76,440.90V443.35M462.68,440.90V443.35M465.92,440.90V443.35M472.28,440.90V443.35" stroke="#1d4468" stroke-width="0.9" fill="none"/>
<path d="M365.00,415.10V417.55M370.98,417.89V420.34M374.75,421.67V424.12M382.68,427.24V429.69M386.97,428.60V431.05M393.34,430.47V432.92M397.50,432.98V435.43M402.83,434.20V436.65M406.34,434.20V436.65M413.23,434.20V436.65M417.91,436.41V438.86M423.89,436.69V439.14M427.66,438.80V441.25M435.59,438.80V441.25M439.88,442.28V444.73M446.25,442.55V445.00M450.41,447.90V450.35M455.74,447.90V450.35M459.25,447.90V450.35" stroke="#b3183a" stroke-width="0.9" fill="none"/>
<text x="7.00" y="515.20" font-size="11.9" fill="#111" stroke="#111" font-weight="bold">G</text>
<text x="96.00" y="522.50" font-size="8.9" textLength="99.50" lengthAdjust="spacingAndGlyphs">Relapse free survival (RFS)</text>
<line x1="71.70" y1="529.50" x2="71.70" y2="537.90" stroke="#111" stroke-width="1.1"/>
<line x1="71.70" y1="535.40" x2="71.70" y2="622.80" stroke="#000" stroke-width="1.25"/>
<line x1="71.10" y1="622.20" x2="230.00" y2="622.20" stroke="#000" stroke-width="1.25"/>
<line x1="68.50" y1="622.20" x2="71.70" y2="622.20" stroke="#222" stroke-width="0.9"/>
<text x="65.50" y="624.80" font-size="7.2" text-anchor="end">0</text>
<line x1="68.50" y1="601.12" x2="71.70" y2="601.12" stroke="#222" stroke-width="0.9"/>
<text x="65.50" y="603.73" font-size="7.2" text-anchor="end" textLength="7.21" lengthAdjust="spacingAndGlyphs">25</text>
<line x1="68.50" y1="580.05" x2="71.70" y2="580.05" stroke="#222" stroke-width="0.9"/>
<text x="65.50" y="582.65" font-size="7.2" text-anchor="end" textLength="7.21" lengthAdjust="spacingAndGlyphs">50</text>
<line x1="68.50" y1="558.98" x2="71.70" y2="558.98" stroke="#222" stroke-width="0.9"/>
<text x="65.50" y="561.58" font-size="7.2" text-anchor="end" textLength="7.21" lengthAdjust="spacingAndGlyphs">75</text>
<line x1="68.50" y1="537.90" x2="71.70" y2="537.90" stroke="#222" stroke-width="0.9"/>
<text x="65.50" y="540.50" font-size="7.2" text-anchor="end" textLength="10.81" lengthAdjust="spacingAndGlyphs">100</text>
<line x1="71.70" y1="622.20" x2="71.70" y2="625.40" stroke="#111" stroke-width="1.0"/>
<text x="71.70" y="633.40" font-size="7.2" text-anchor="middle">0</text>
<line x1="110.78" y1="622.20" x2="110.78" y2="625.40" stroke="#111" stroke-width="1.0"/>
<text x="110.78" y="633.40" font-size="7.2" text-anchor="middle" textLength="7.21" lengthAdjust="spacingAndGlyphs">12</text>
<line x1="149.85" y1="622.20" x2="149.85" y2="625.40" stroke="#111" stroke-width="1.0"/>
<text x="149.85" y="633.40" font-size="7.2" text-anchor="middle" textLength="7.21" lengthAdjust="spacingAndGlyphs">24</text>
<line x1="188.93" y1="622.20" x2="188.93" y2="625.40" stroke="#111" stroke-width="1.0"/>
<text x="188.93" y="633.40" font-size="7.2" text-anchor="middle" textLength="7.21" lengthAdjust="spacingAndGlyphs">36</text>
<line x1="228.00" y1="622.20" x2="228.00" y2="625.40" stroke="#111" stroke-width="1.0"/>
<text x="228.00" y="633.40" font-size="7.2" text-anchor="middle" textLength="7.21" lengthAdjust="spacingAndGlyphs">48</text>
<text transform="translate(48.00,575.50) rotate(-90)" font-size="8.2" text-anchor="middle" textLength="67" lengthAdjust="spacingAndGlyphs">Probability of survival</text>
<text x="20.00" y="633.30" font-size="7.0" textLength="38.30" lengthAdjust="spacingAndGlyphs">RFS, months</text>
<text x="136.60" y="536.00" font-size="7.0" text-anchor="middle">N</text>
<text x="159.10" y="536.00" font-size="7.0" text-anchor="middle" textLength="20.20" lengthAdjust="spacingAndGlyphs">Events</text>
<text x="199.40" y="536.00" font-size="7.0" text-anchor="middle" textLength="35.50" lengthAdjust="spacingAndGlyphs">mRFS (mos)</text>
<line x1="131.50" y1="538.50" x2="218.00" y2="538.50" stroke="#333" stroke-width="0.7"/>
<line x1="87.90" y1="544.60" x2="98.80" y2="544.60" stroke="#b3183a" stroke-width="1.15"/>
<line x1="93.35" y1="542.80" x2="93.35" y2="545.10" stroke="#b3183a" stroke-width="0.8"/>
<line x1="87.90" y1="553.30" x2="98.80" y2="553.30" stroke="#1d4468" stroke-width="1.15"/>
<line x1="93.35" y1="551.50" x2="93.35" y2="553.80" stroke="#1d4468" stroke-width="0.8"/>
<text x="106.60" y="546.90" font-size="7.0" textLength="7.50" lengthAdjust="spacingAndGlyphs">SF</text>
<text x="114.40" y="544.10" font-size="4.9" textLength="8.17" lengthAdjust="spacingAndGlyphs">mut</text>
<text x="106.60" y="555.60" font-size="7.0" textLength="7.50" lengthAdjust="spacingAndGlyphs">SF</text>
<text x="114.40" y="552.80" font-size="4.9" textLength="4.90" lengthAdjust="spacingAndGlyphs">wt</text>
<text x="137.50" y="546.90" font-size="7.0" text-anchor="middle" textLength="7.16" lengthAdjust="spacingAndGlyphs">76</text>
<text x="159.10" y="546.90" font-size="7.0" text-anchor="middle" textLength="7.16" lengthAdjust="spacingAndGlyphs">53</text>
<text x="190.30" y="546.90" font-size="7.0" text-anchor="middle" textLength="12.53" lengthAdjust="spacingAndGlyphs">13.7</text>
<text x="136.50" y="555.60" font-size="7.0" text-anchor="middle" textLength="10.74" lengthAdjust="spacingAndGlyphs">139</text>
<text x="158.70" y="555.60" font-size="7.0" text-anchor="middle" textLength="10.74" lengthAdjust="spacingAndGlyphs">100</text>
<text x="193.20" y="555.60" font-size="7.0" text-anchor="middle" textLength="8.95" lengthAdjust="spacingAndGlyphs">9.8</text>
<text x="136.9" y="574.0" font-size="7.5" textLength="47.6" lengthAdjust="spacingAndGlyphs"><tspan font-style="italic">P</tspan> log rank = .29</text>
<polyline points="71.80,537.80 71.80,538.40 72.53,538.40 72.53,539.60 73.27,539.60 73.27,540.80 74.00,540.80 74.00,541.40 74.00,541.99 74.30,541.99 74.30,543.16 74.60,543.16 74.60,544.34 74.90,544.34 74.90,545.51 75.20,545.51 75.20,546.10 75.20,546.70 75.50,546.70 75.50,547.90 75.80,547.90 75.80,549.10 76.10,549.10 76.10,550.30 76.40,550.30 76.40,550.90 76.40,551.50 78.10,551.50 78.10,552.10 78.10,553.00 79.90,553.00 79.90,553.90 79.90,554.50 81.10,554.50 81.10,555.70 82.30,555.70 82.30,556.30 82.30,556.90 85.30,556.90 85.30,557.50 85.30,558.10 87.10,558.10 87.10,558.70 87.10,559.28 87.70,559.28 87.70,560.45 88.30,560.45 88.30,561.62 88.90,561.62 88.90,562.20 88.90,562.90 89.50,562.90 89.50,564.30 90.10,564.30 90.10,565.70 90.70,565.70 90.70,566.40 90.70,567.00 91.90,567.00 91.90,568.20 93.10,568.20 93.10,568.80 93.10,569.40 94.55,569.40 94.55,570.60 96.00,570.60 96.00,571.20 96.00,571.90 96.80,571.90 96.80,573.30 97.60,573.30 97.60,574.70 98.40,574.70 98.40,575.40 98.40,575.98 99.40,575.98 99.40,577.15 100.40,577.15 100.40,578.32 101.40,578.32 101.40,578.90 101.40,579.65 103.20,579.65 103.20,581.15 105.00,581.15 105.00,581.90 105.00,582.50 107.40,582.50 107.40,583.70 109.80,583.70 109.80,584.30 109.80,585.05 111.55,585.05 111.55,586.55 113.30,586.55 113.30,587.30 113.30,587.90 114.20,587.90 114.20,589.10 115.10,589.10 115.10,589.70 115.10,590.00 119.30,590.00 119.30,590.30 119.30,591.20 124.10,591.20 124.10,592.10 124.10,593.00 128.00,593.00 128.00,593.90 128.00,594.48 130.75,594.48 130.75,595.62 133.50,595.62 133.50,596.20 133.50,596.90 137.73,596.90 137.73,598.30 141.97,598.30 141.97,599.70 146.20,599.70 146.20,600.40 146.20,601.10 149.70,601.10 149.70,602.50 153.20,602.50 153.20,603.90 156.70,603.90 156.70,604.60 156.70,605.12 162.00,605.12 162.00,606.18 167.30,606.18 167.30,606.70 167.30,607.25 173.70,607.25 173.70,607.80 173.70,608.60 176.30,608.60 176.30,610.20 178.90,610.20 178.90,611.00 178.90,611.77 181.05,611.77 181.05,613.33 183.20,613.33 183.20,614.10 183.20,614.45 194.80,614.45 194.80,614.80 194.80,615.42 195.35,615.42 195.35,616.67 195.90,616.67 195.90,617.30 211.70,617.30" fill="none" stroke="#1d4468" stroke-width="1.6" stroke-linejoin="miter"/>
<polyline points="71.80,537.80 71.80,538.40 72.53,538.40 72.53,539.60 73.27,539.60 73.27,540.80 74.00,540.80 74.00,541.40 74.00,541.99 74.30,541.99 74.30,543.16 74.60,543.16 74.60,544.34 74.90,544.34 74.90,545.51 75.20,545.51 75.20,546.10 75.20,546.70 75.50,546.70 75.50,547.90 75.80,547.90 75.80,549.10 76.10,549.10 76.10,550.30 76.40,550.30 76.40,550.90 76.40,551.50 78.10,551.50 78.10,552.10 78.10,553.00 79.90,553.00 79.90,553.90 79.90,554.50 81.10,554.50 81.10,555.70 82.30,555.70 82.30,556.30 82.30,556.90 85.30,556.90 85.30,557.50 85.30,558.10 87.10,558.10 87.10,558.70 87.10,559.55 89.50,559.55 89.50,560.40 89.50,561.10 90.30,561.10 90.30,562.50 91.10,562.50 91.10,563.90 91.90,563.90 91.90,564.60 91.90,565.20 93.65,565.20 93.65,566.40 95.40,566.40 95.40,567.00 95.40,567.90 100.20,567.90 100.20,568.80 100.20,569.40 101.10,569.40 101.10,570.60 102.00,570.60 102.00,571.20 102.00,572.10 105.00,572.10 105.00,573.00 105.00,573.90 109.80,573.90 109.80,574.80 109.80,575.52 110.70,575.52 110.70,576.98 111.60,576.98 111.60,577.70 111.60,578.30 112.45,578.30 112.45,579.50 113.30,579.50 113.30,580.10 113.30,580.40 118.10,580.40 118.10,580.70 118.10,581.30 122.90,581.30 122.90,581.90 122.90,582.50 125.30,582.50 125.30,583.10 125.30,583.30 129.20,583.30 129.20,583.50 129.20,584.12 130.08,584.12 130.08,585.35 130.97,585.35 130.97,586.58 131.85,586.58 131.85,587.82 132.73,587.82 132.73,589.05 133.62,589.05 133.62,590.28 134.50,590.28 134.50,590.90 134.50,591.20 146.20,591.20 146.20,591.50 146.20,592.20 146.90,592.20 146.90,593.60 147.60,593.60 147.60,595.00 148.30,595.00 148.30,595.70 148.30,596.35 152.50,596.35 152.50,597.65 156.70,597.65 156.70,598.30 156.70,598.82 159.90,598.82 159.90,599.88 163.10,599.88 163.10,600.40 163.10,601.20 166.80,601.20 166.80,602.80 170.50,602.80 170.50,603.60 170.50,604.38 173.15,604.38 173.15,605.93 175.80,605.93 175.80,606.70 175.80,607.42 176.83,607.42 176.83,608.85 177.87,608.85 177.87,610.28 178.90,610.28 178.90,611.00 178.90,611.20 194.80,611.20 194.80,611.40 194.80,612.08 195.35,612.08 195.35,613.42 195.90,613.42 195.90,614.10 214.90,614.10 214.90,614.65 215.45,614.65 215.45,615.75 216.00,615.75 216.00,616.30 216.00,616.80 226.50,616.80 226.50,617.30 226.50,617.91 226.62,617.91 226.62,619.14 226.75,619.14 226.75,620.36 226.88,620.36 226.88,621.59 227.00,621.59 227.00,622.20" fill="none" stroke="#b3183a" stroke-width="1.6" stroke-linejoin="miter"/>
<text x="24.30" y="654.50" font-size="7.0" textLength="13.60" lengthAdjust="spacingAndGlyphs">NAR</text>
<text x="45.80" y="650.00" font-size="7.0" textLength="7.50" lengthAdjust="spacingAndGlyphs" fill="#c0284a" stroke="#c0284a">SF</text>
<text x="53.60" y="647.20" font-size="4.9" textLength="8.17" lengthAdjust="spacingAndGlyphs" fill="#c0284a" stroke="#c0284a">mut</text>
<text x="45.80" y="661.10" font-size="7.0" textLength="7.50" lengthAdjust="spacingAndGlyphs" fill="#2a6496" stroke="#2a6496">SF</text>
<text x="53.60" y="658.30" font-size="4.9" textLength="4.90" lengthAdjust="spacingAndGlyphs" fill="#2a6496" stroke="#2a6496">wt</text>
<text x="71.70" y="650.00" font-size="7.0" text-anchor="middle" textLength="7.16" lengthAdjust="spacingAndGlyphs">76</text>
<text x="71.70" y="661.10" font-size="7.0" text-anchor="middle" textLength="10.74" lengthAdjust="spacingAndGlyphs">139</text>
<text x="110.78" y="650.00" font-size="7.0" text-anchor="middle" textLength="7.16" lengthAdjust="spacingAndGlyphs">33</text>
<text x="110.78" y="661.10" font-size="7.0" text-anchor="middle" textLength="7.16" lengthAdjust="spacingAndGlyphs">51</text>
<text x="149.85" y="650.00" font-size="7.0" text-anchor="middle" textLength="7.16" lengthAdjust="spacingAndGlyphs">16</text>
<text x="149.85" y="661.10" font-size="7.0" text-anchor="middle" textLength="7.16" lengthAdjust="spacingAndGlyphs">20</text>
<text x="188.93" y="650.00" font-size="7.0" text-anchor="middle">5</text>
<text x="188.93" y="661.10" font-size="7.0" text-anchor="middle">8</text>
<path d="M100.00,575.27V577.72M103.51,578.66V581.11M110.40,582.81V585.26M115.08,587.67V590.12M121.06,588.96V591.41M124.83,590.44V592.89M132.76,593.89V596.34M137.05,595.37V597.82M143.42,597.48V599.93M147.58,598.95V601.40M152.91,601.08V603.53M156.42,602.49V604.94M163.31,603.91V606.36M167.99,604.82V607.27M173.97,605.97V608.42M177.74,608.29V610.74M185.67,612.25V614.70M189.96,612.51V614.96M196.33,615.30V617.75M200.49,615.30V617.75M205.82,615.30V617.75M209.33,615.30V617.75" stroke="#1d4468" stroke-width="0.9" fill="none"/>
<path d="M100.00,566.72V569.17M106.44,571.54V573.99M110.50,573.93V576.38M119.04,578.94V581.39M123.66,580.28V582.73M130.52,583.34V585.79M135.00,588.93V591.38M140.74,589.22V591.67M144.52,589.41V591.86M151.94,594.83V597.28M156.98,596.39V598.84M163.42,598.54V600.99M167.48,600.29V602.74M176.02,605.01V607.46M180.64,609.04V611.49M187.50,609.22V611.67M191.98,609.33V611.78M197.72,612.10V614.55M201.50,612.10V614.55M208.92,612.10V614.55M213.96,612.10V614.55M220.40,614.72V617.17M224.46,615.11V617.56" stroke="#b3183a" stroke-width="0.9" fill="none"/>
<text x="271.60" y="512.80" font-size="11.9" fill="#111" stroke="#111" font-weight="bold">H</text>
<text x="373.20" y="521.90" font-size="8.9" textLength="77.00" lengthAdjust="spacingAndGlyphs">Overall survival (OS)</text>
<line x1="331.70" y1="529.50" x2="331.70" y2="537.70" stroke="#111" stroke-width="1.1"/>
<line x1="331.70" y1="535.20" x2="331.70" y2="622.70" stroke="#000" stroke-width="1.25"/>
<line x1="331.10" y1="622.10" x2="494.60" y2="622.10" stroke="#000" stroke-width="1.25"/>
<line x1="328.50" y1="622.10" x2="331.70" y2="622.10" stroke="#222" stroke-width="0.9"/>
<text x="325.50" y="624.70" font-size="7.2" text-anchor="end">0</text>
<line x1="328.50" y1="601.00" x2="331.70" y2="601.00" stroke="#222" stroke-width="0.9"/>
<text x="325.50" y="603.60" font-size="7.2" text-anchor="end" textLength="7.21" lengthAdjust="spacingAndGlyphs">25</text>
<line x1="328.50" y1="579.90" x2="331.70" y2="579.90" stroke="#222" stroke-width="0.9"/>
<text x="325.50" y="582.50" font-size="7.2" text-anchor="end" textLength="7.21" lengthAdjust="spacingAndGlyphs">50</text>
<line x1="328.50" y1="558.80" x2="331.70" y2="558.80" stroke="#222" stroke-width="0.9"/>
<text x="325.50" y="561.40" font-size="7.2" text-anchor="end" textLength="7.21" lengthAdjust="spacingAndGlyphs">75</text>
<line x1="328.50" y1="537.70" x2="331.70" y2="537.70" stroke="#222" stroke-width="0.9"/>
<text x="325.50" y="540.30" font-size="7.2" text-anchor="end" textLength="10.81" lengthAdjust="spacingAndGlyphs">100</text>
<line x1="331.70" y1="622.10" x2="331.70" y2="625.30" stroke="#111" stroke-width="1.0"/>
<text x="331.70" y="633.40" font-size="7.2" text-anchor="middle">0</text>
<line x1="363.54" y1="622.10" x2="363.54" y2="625.30" stroke="#111" stroke-width="1.0"/>
<text x="363.54" y="633.40" font-size="7.2" text-anchor="middle" textLength="7.21" lengthAdjust="spacingAndGlyphs">12</text>
<line x1="395.38" y1="622.10" x2="395.38" y2="625.30" stroke="#111" stroke-width="1.0"/>
<text x="395.38" y="633.40" font-size="7.2" text-anchor="middle" textLength="7.21" lengthAdjust="spacingAndGlyphs">24</text>
<line x1="427.22" y1="622.10" x2="427.22" y2="625.30" stroke="#111" stroke-width="1.0"/>
<text x="427.22" y="633.40" font-size="7.2" text-anchor="middle" textLength="7.21" lengthAdjust="spacingAndGlyphs">36</text>
<line x1="459.06" y1="622.10" x2="459.06" y2="625.30" stroke="#111" stroke-width="1.0"/>
<text x="459.06" y="633.40" font-size="7.2" text-anchor="middle" textLength="7.21" lengthAdjust="spacingAndGlyphs">48</text>
<line x1="490.90" y1="622.10" x2="490.90" y2="625.30" stroke="#111" stroke-width="1.0"/>
<text x="490.90" y="633.40" font-size="7.2" text-anchor="middle" textLength="7.21" lengthAdjust="spacingAndGlyphs">60</text>
<text transform="translate(308.00,575.50) rotate(-90)" font-size="8.2" text-anchor="middle" textLength="67" lengthAdjust="spacingAndGlyphs">Probability of survival</text>
<text x="285.00" y="633.30" font-size="7.0" textLength="35.70" lengthAdjust="spacingAndGlyphs">OS, months</text>
<text x="393.40" y="535.40" font-size="7.0" text-anchor="middle">N</text>
<text x="416.40" y="535.40" font-size="7.0" text-anchor="middle" textLength="20.20" lengthAdjust="spacingAndGlyphs">Events</text>
<text x="456.80" y="535.40" font-size="7.0" text-anchor="middle" textLength="34.60" lengthAdjust="spacingAndGlyphs">mOS (mos)</text>
<line x1="387.60" y1="538.20" x2="474.50" y2="538.20" stroke="#333" stroke-width="0.7"/>
<line x1="348.70" y1="542.60" x2="359.60" y2="542.60" stroke="#b3183a" stroke-width="1.15"/>
<line x1="354.15" y1="540.80" x2="354.15" y2="543.10" stroke="#b3183a" stroke-width="0.8"/>
<line x1="348.70" y1="551.80" x2="359.60" y2="551.80" stroke="#1d4468" stroke-width="1.15"/>
<line x1="354.15" y1="550.00" x2="354.15" y2="552.30" stroke="#1d4468" stroke-width="0.8"/>
<text x="364.50" y="546.00" font-size="7.0" textLength="7.50" lengthAdjust="spacingAndGlyphs">SF</text>
<text x="372.30" y="543.20" font-size="4.9" textLength="8.17" lengthAdjust="spacingAndGlyphs">mut</text>
<text x="364.50" y="555.30" font-size="7.0" textLength="7.50" lengthAdjust="spacingAndGlyphs">SF</text>
<text x="372.30" y="552.50" font-size="4.9" textLength="4.90" lengthAdjust="spacingAndGlyphs">wt</text>
<text x="393.40" y="546.00" font-size="7.0" text-anchor="middle" textLength="7.16" lengthAdjust="spacingAndGlyphs">96</text>
<text x="416.40" y="546.00" font-size="7.0" text-anchor="middle" textLength="7.16" lengthAdjust="spacingAndGlyphs">52</text>
<text x="446.70" y="546.00" font-size="7.0" text-anchor="middle" textLength="12.53" lengthAdjust="spacingAndGlyphs">19.1</text>
<text x="392.40" y="555.30" font-size="7.0" text-anchor="middle" textLength="10.74" lengthAdjust="spacingAndGlyphs">171</text>
<text x="416.40" y="555.30" font-size="7.0" text-anchor="middle" textLength="10.74" lengthAdjust="spacingAndGlyphs">103</text>
<text x="446.70" y="555.30" font-size="7.0" text-anchor="middle" textLength="12.53" lengthAdjust="spacingAndGlyphs">13.6</text>
<text x="399.1" y="572.9" font-size="7.5" textLength="47.6" lengthAdjust="spacingAndGlyphs"><tspan font-style="italic">P</tspan> log rank = .44</text>
<polyline points="331.80,537.70 331.80,538.33 332.90,538.33 332.90,539.58 334.00,539.58 334.00,540.20 334.00,540.93 335.20,540.93 335.20,542.38 336.40,542.38 336.40,543.10 336.40,543.77 336.67,543.77 336.67,545.12 336.95,545.12 336.95,546.48 337.23,546.48 337.23,547.83 337.50,547.83 337.50,548.50 337.50,549.10 338.10,549.10 338.10,550.30 338.70,550.30 338.70,550.90 338.70,551.65 340.50,551.65 340.50,553.15 342.30,553.15 342.30,553.90 342.30,554.50 343.20,554.50 343.20,555.70 344.10,555.70 344.10,556.90 345.00,556.90 345.00,558.10 345.90,558.10 345.90,558.70 345.90,559.38 347.50,559.38 347.50,560.75 349.10,560.75 349.10,562.12 350.70,562.12 350.70,562.80 350.70,563.40 351.90,563.40 351.90,564.60 353.10,564.60 353.10,565.80 354.30,565.80 354.30,566.40 354.30,567.00 356.05,567.00 356.05,568.20 357.80,568.20 357.80,568.80 357.80,569.40 358.70,569.40 358.70,570.60 359.60,570.60 359.60,571.80 360.50,571.80 360.50,573.00 361.40,573.00 361.40,573.60 361.40,574.20 363.00,574.20 363.00,575.40 364.60,575.40 364.60,576.60 366.20,576.60 366.20,577.20 366.20,577.78 367.80,577.78 367.80,578.95 369.40,578.95 369.40,580.12 371.00,580.12 371.00,580.70 371.00,581.45 372.75,581.45 372.75,582.95 374.50,582.95 374.50,583.70 374.50,584.30 378.10,584.30 378.10,584.90 378.10,585.50 379.90,585.50 379.90,586.70 381.70,586.70 381.70,587.30 381.70,587.65 385.30,587.65 385.30,588.00 385.30,588.67 387.80,588.67 387.80,590.03 390.30,590.03 390.30,590.70 390.30,591.23 394.00,591.23 394.00,592.27 397.70,592.27 397.70,592.80 397.70,593.35 401.95,593.35 401.95,594.45 406.20,594.45 406.20,595.00 406.20,595.40 416.70,595.40 416.70,595.80 416.70,596.65 421.00,596.65 421.00,597.50 421.00,598.05 426.30,598.05 426.30,598.60 426.30,599.38 426.80,599.38 426.80,600.93 427.30,600.93 427.30,601.70 427.30,602.25 433.70,602.25 433.70,602.80 433.70,603.32 434.20,603.32 434.20,604.38 434.70,604.38 434.70,604.90 463.30,604.90 463.30,622.10" fill="none" stroke="#1d4468" stroke-width="1.6" stroke-linejoin="miter"/>
<polyline points="331.80,537.70 331.80,538.33 332.90,538.33 332.90,539.58 334.00,539.58 334.00,540.20 334.00,540.93 335.20,540.93 335.20,542.38 336.40,542.38 336.40,543.10 336.40,543.77 336.67,543.77 336.67,545.12 336.95,545.12 336.95,546.48 337.23,546.48 337.23,547.83 337.50,547.83 337.50,548.50 337.50,549.17 337.80,549.17 337.80,550.52 338.10,550.52 338.10,551.88 338.40,551.88 338.40,553.23 338.70,553.23 338.70,553.90 338.70,554.60 339.50,554.60 339.50,556.00 340.30,556.00 340.30,557.40 341.10,557.40 341.10,558.10 341.10,558.83 342.00,558.83 342.00,560.27 342.90,560.27 342.90,561.00 342.90,561.60 345.90,561.60 345.90,562.20 345.90,563.10 348.30,563.10 348.30,564.00 348.30,564.30 351.30,564.30 351.30,564.60 351.30,565.20 352.50,565.20 352.50,566.40 353.70,566.40 353.70,567.00 353.70,567.60 357.80,567.60 357.80,568.20 357.80,568.50 362.60,568.50 362.60,568.80 362.60,569.40 366.20,569.40 366.20,570.00 366.20,570.60 367.20,570.60 367.20,571.80 368.20,571.80 368.20,573.00 369.20,573.00 369.20,573.60 369.20,574.20 372.20,574.20 372.20,574.80 372.20,575.40 375.70,575.40 375.70,576.00 375.70,575.80 380.50,575.80 380.50,575.60 380.50,576.24 381.10,576.24 381.10,577.51 381.70,577.51 381.70,578.79 382.30,578.79 382.30,580.06 382.90,580.06 382.90,580.70 382.90,581.50 385.30,581.50 385.30,582.30 385.30,582.70 395.60,582.70 395.60,583.10 395.60,583.73 395.93,583.73 395.93,585.00 396.27,585.00 396.27,586.27 396.60,586.27 396.60,586.90 396.60,587.42 399.25,587.42 399.25,588.48 401.90,588.48 401.90,589.00 401.90,589.55 405.10,589.55 405.10,590.65 408.30,590.65 408.30,591.20 408.30,591.73 409.85,591.73 409.85,592.77 411.40,592.77 411.40,593.30 411.40,593.80 412.50,593.80 412.50,594.30 454.80,594.30 454.80,594.95 454.96,594.95 454.96,596.25 455.11,596.25 455.11,597.55 455.27,597.55 455.27,598.85 455.43,598.85 455.43,600.15 455.59,600.15 455.59,601.45 455.74,601.45 455.74,602.75 455.90,602.75 455.90,603.40 476.00,603.40" fill="none" stroke="#b3183a" stroke-width="1.6" stroke-linejoin="miter"/>
<text x="286.75" y="654.50" font-size="7.0" textLength="13.60" lengthAdjust="spacingAndGlyphs">NAR</text>
<text x="308.30" y="650.00" font-size="7.0" textLength="7.50" lengthAdjust="spacingAndGlyphs" fill="#c0284a" stroke="#c0284a">SF</text>
<text x="316.10" y="647.20" font-size="4.9" textLength="8.17" lengthAdjust="spacingAndGlyphs" fill="#c0284a" stroke="#c0284a">mut</text>
<text x="308.30" y="661.10" font-size="7.0" textLength="7.50" lengthAdjust="spacingAndGlyphs" fill="#2a6496" stroke="#2a6496">SF</text>
<text x="316.10" y="658.30" font-size="4.9" textLength="4.90" lengthAdjust="spacingAndGlyphs" fill="#2a6496" stroke="#2a6496">wt</text>
<text x="331.70" y="650.00" font-size="7.0" text-anchor="middle" textLength="7.16" lengthAdjust="spacingAndGlyphs">96</text>
<text x="331.70" y="661.10" font-size="7.0" text-anchor="middle" textLength="10.74" lengthAdjust="spacingAndGlyphs">171</text>
<text x="363.54" y="650.00" font-size="7.0" text-anchor="middle" textLength="7.16" lengthAdjust="spacingAndGlyphs">47</text>
<text x="363.54" y="661.10" font-size="7.0" text-anchor="middle" textLength="7.16" lengthAdjust="spacingAndGlyphs">74</text>
<text x="395.38" y="650.00" font-size="7.0" text-anchor="middle" textLength="7.16" lengthAdjust="spacingAndGlyphs">26</text>
<text x="395.38" y="661.10" font-size="7.0" text-anchor="middle" textLength="7.16" lengthAdjust="spacingAndGlyphs">34</text>
<text x="427.22" y="650.00" font-size="7.0" text-anchor="middle">6</text>
<text x="427.22" y="661.10" font-size="7.0" text-anchor="middle">9</text>
<text x="459.06" y="650.00" font-size="7.0" text-anchor="middle">2</text>
<text x="459.06" y="661.10" font-size="7.0" text-anchor="middle">2</text>
<path d="M360.00,569.73V572.18M363.24,572.98V575.43M369.60,577.68V580.13M373.92,581.20V583.65M379.44,583.79V586.24M382.92,585.54V587.99M390.24,588.67V591.12M394.20,589.81V592.26M400.08,591.42V593.87M403.92,592.41V594.86M408.84,593.20V595.65M412.08,593.45V595.90M418.44,594.49V596.94M422.76,595.87V598.32M428.28,599.87V602.32M431.76,600.47V602.92M439.08,602.90V605.35M443.04,602.90V605.35M448.92,602.90V605.35M452.76,602.90V605.35M457.68,602.90V605.35M460.92,602.90V605.35" stroke="#1d4468" stroke-width="0.9" fill="none"/>
<path d="M360.00,566.48V568.93M365.98,567.93V570.38M369.75,571.82V574.27M377.68,573.84V576.29M381.97,576.72V579.17M388.34,580.54V582.99M392.50,580.86V583.31M397.83,585.39V587.84M401.34,586.78V589.23M408.23,589.18V591.63M412.91,592.30V594.75M418.89,592.30V594.75M422.66,592.30V594.75M430.59,592.30V594.75M434.88,592.30V594.75M441.25,592.30V594.75M445.41,592.30V594.75M450.74,592.30V594.75M454.25,592.30V594.75M461.14,601.40V603.85M465.82,601.40V603.85M471.80,601.40V603.85M475.57,601.40V603.85" stroke="#b3183a" stroke-width="0.9" fill="none"/>
</g>
<rect x="0.5" y="0.5" width="519" height="670" fill="none" stroke="#3a3a3a" stroke-width="1"/>
</svg>
</body></html>
